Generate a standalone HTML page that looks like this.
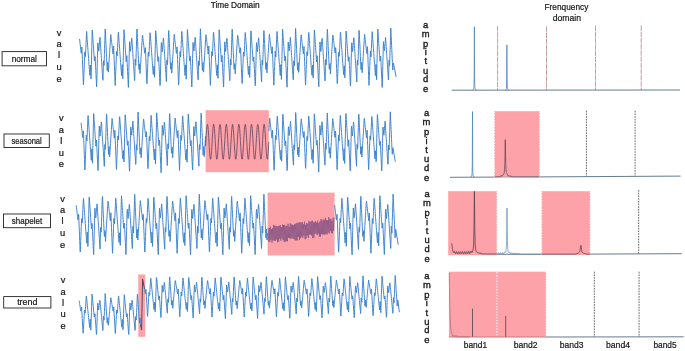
<!DOCTYPE html>
<html><head><meta charset="utf-8"><title>Time and Frequency Domain Anomalies</title>
<style>html,body{margin:0;padding:0;background:#fff;}svg{display:block}</style></head>
<body>
<svg width="685" height="351" viewBox="0 0 685 351">
<defs><filter id="soft" x="-5%" y="-5%" width="110%" height="110%"><feGaussianBlur stdDeviation="0.35"/></filter><filter id="soft2" x="-5%" y="-5%" width="110%" height="110%"><feGaussianBlur stdDeviation="0.3"/></filter></defs>
<rect width="685" height="351" fill="#fff"/>
<g font-family="'Liberation Sans', sans-serif" filter="url(#soft2)">
<text x="235.2" y="8.3" font-size="8.60" text-anchor="middle" fill="#161616" stroke="#161616" stroke-width="0.20" font-weight="normal" textLength="49.0" lengthAdjust="spacingAndGlyphs">Time Domain</text>
<text x="566.4" y="9.8" font-size="8.60" text-anchor="middle" fill="#161616" stroke="#161616" stroke-width="0.20" font-weight="normal" textLength="43.8" lengthAdjust="spacingAndGlyphs">Frenquency</text>
<text x="566.9" y="21.0" font-size="8.60" text-anchor="middle" fill="#161616" stroke="#161616" stroke-width="0.20" font-weight="normal" textLength="28.3" lengthAdjust="spacingAndGlyphs">domain</text>
<rect x="2.1" y="51.6" width="44.4" height="14.2" fill="#fff" stroke="#222" stroke-width="0.9"/>
<text x="24.3" y="61.6" font-size="8.80" text-anchor="middle" fill="#161616" stroke="#161616" stroke-width="0.20" font-weight="normal" textLength="25.3" lengthAdjust="spacingAndGlyphs">normal</text>
<rect x="4.0" y="134.0" width="45.3" height="13.5" fill="#fff" stroke="#222" stroke-width="0.9"/>
<text x="26.6" y="143.7" font-size="8.80" text-anchor="middle" fill="#161616" stroke="#161616" stroke-width="0.20" font-weight="normal" textLength="30.3" lengthAdjust="spacingAndGlyphs">seasonal</text>
<rect x="3.5" y="214.0" width="47.0" height="13.7" fill="#fff" stroke="#222" stroke-width="0.9"/>
<text x="27.0" y="223.8" font-size="8.80" text-anchor="middle" fill="#161616" stroke="#161616" stroke-width="0.20" font-weight="normal" textLength="30.3" lengthAdjust="spacingAndGlyphs">shapelet</text>
<rect x="3.7" y="296.6" width="47.2" height="11.4" fill="#fff" stroke="#222" stroke-width="0.9"/>
<text x="27.3" y="305.2" font-size="8.80" text-anchor="middle" fill="#161616" stroke="#161616" stroke-width="0.20" font-weight="normal" textLength="20.3" lengthAdjust="spacingAndGlyphs">trend</text>
<text x="59.0" y="35.5" font-size="9.30" text-anchor="middle" fill="#161616" stroke="#161616" stroke-width="0.22" font-weight="normal">v</text>
<text x="59.0" y="46.9" font-size="9.30" text-anchor="middle" fill="#161616" stroke="#161616" stroke-width="0.22" font-weight="normal">a</text>
<text x="59.0" y="57.5" font-size="9.30" text-anchor="middle" fill="#161616" stroke="#161616" stroke-width="0.22" font-weight="normal">l</text>
<text x="59.0" y="70.1" font-size="9.30" text-anchor="middle" fill="#161616" stroke="#161616" stroke-width="0.22" font-weight="normal">u</text>
<text x="59.0" y="81.5" font-size="9.30" text-anchor="middle" fill="#161616" stroke="#161616" stroke-width="0.22" font-weight="normal">e</text>
<text x="61.3" y="120.7" font-size="9.30" text-anchor="middle" fill="#161616" stroke="#161616" stroke-width="0.22" font-weight="normal">v</text>
<text x="61.3" y="132.8" font-size="9.30" text-anchor="middle" fill="#161616" stroke="#161616" stroke-width="0.22" font-weight="normal">a</text>
<text x="61.3" y="143.7" font-size="9.30" text-anchor="middle" fill="#161616" stroke="#161616" stroke-width="0.22" font-weight="normal">l</text>
<text x="61.3" y="155.8" font-size="9.30" text-anchor="middle" fill="#161616" stroke="#161616" stroke-width="0.22" font-weight="normal">u</text>
<text x="61.3" y="167.2" font-size="9.30" text-anchor="middle" fill="#161616" stroke="#161616" stroke-width="0.22" font-weight="normal">e</text>
<text x="62.5" y="201.9" font-size="9.30" text-anchor="middle" fill="#161616" stroke="#161616" stroke-width="0.22" font-weight="normal">v</text>
<text x="62.5" y="213.3" font-size="9.30" text-anchor="middle" fill="#161616" stroke="#161616" stroke-width="0.22" font-weight="normal">a</text>
<text x="62.5" y="224.2" font-size="9.30" text-anchor="middle" fill="#161616" stroke="#161616" stroke-width="0.22" font-weight="normal">l</text>
<text x="62.5" y="236.3" font-size="9.30" text-anchor="middle" fill="#161616" stroke="#161616" stroke-width="0.22" font-weight="normal">u</text>
<text x="62.5" y="247.9" font-size="9.30" text-anchor="middle" fill="#161616" stroke="#161616" stroke-width="0.22" font-weight="normal">e</text>
<text x="63.0" y="282.7" font-size="9.30" text-anchor="middle" fill="#161616" stroke="#161616" stroke-width="0.22" font-weight="normal">v</text>
<text x="63.0" y="294.8" font-size="9.30" text-anchor="middle" fill="#161616" stroke="#161616" stroke-width="0.22" font-weight="normal">a</text>
<text x="63.0" y="305.7" font-size="9.30" text-anchor="middle" fill="#161616" stroke="#161616" stroke-width="0.22" font-weight="normal">l</text>
<text x="63.0" y="317.3" font-size="9.30" text-anchor="middle" fill="#161616" stroke="#161616" stroke-width="0.22" font-weight="normal">u</text>
<text x="63.0" y="328.7" font-size="9.30" text-anchor="middle" fill="#161616" stroke="#161616" stroke-width="0.22" font-weight="normal">e</text>
<text x="425.7" y="27.7" font-size="9.40" text-anchor="middle" fill="#161616" stroke="#161616" stroke-width="0.35" font-weight="normal">a</text>
<text x="425.7" y="36.9" font-size="9.40" text-anchor="middle" fill="#161616" stroke="#161616" stroke-width="0.35" font-weight="normal">m</text>
<text x="425.7" y="47.0" font-size="9.40" text-anchor="middle" fill="#161616" stroke="#161616" stroke-width="0.35" font-weight="normal">p</text>
<text x="425.7" y="55.0" font-size="9.40" text-anchor="middle" fill="#161616" stroke="#161616" stroke-width="0.35" font-weight="normal">i</text>
<text x="425.7" y="64.2" font-size="9.40" text-anchor="middle" fill="#161616" stroke="#161616" stroke-width="0.35" font-weight="normal">t</text>
<text x="425.7" y="73.7" font-size="9.40" text-anchor="middle" fill="#161616" stroke="#161616" stroke-width="0.35" font-weight="normal">u</text>
<text x="425.7" y="82.4" font-size="9.40" text-anchor="middle" fill="#161616" stroke="#161616" stroke-width="0.35" font-weight="normal">d</text>
<text x="425.7" y="92.1" font-size="9.40" text-anchor="middle" fill="#161616" stroke="#161616" stroke-width="0.35" font-weight="normal">e</text>
<text x="426.5" y="115.7" font-size="9.40" text-anchor="middle" fill="#161616" stroke="#161616" stroke-width="0.35" font-weight="normal">a</text>
<text x="426.5" y="124.9" font-size="9.40" text-anchor="middle" fill="#161616" stroke="#161616" stroke-width="0.35" font-weight="normal">m</text>
<text x="426.5" y="135.0" font-size="9.40" text-anchor="middle" fill="#161616" stroke="#161616" stroke-width="0.35" font-weight="normal">p</text>
<text x="426.5" y="143.5" font-size="9.40" text-anchor="middle" fill="#161616" stroke="#161616" stroke-width="0.35" font-weight="normal">i</text>
<text x="426.5" y="152.7" font-size="9.40" text-anchor="middle" fill="#161616" stroke="#161616" stroke-width="0.35" font-weight="normal">t</text>
<text x="426.5" y="162.4" font-size="9.40" text-anchor="middle" fill="#161616" stroke="#161616" stroke-width="0.35" font-weight="normal">u</text>
<text x="426.5" y="171.4" font-size="9.40" text-anchor="middle" fill="#161616" stroke="#161616" stroke-width="0.35" font-weight="normal">d</text>
<text x="426.5" y="181.1" font-size="9.40" text-anchor="middle" fill="#161616" stroke="#161616" stroke-width="0.35" font-weight="normal">e</text>
<text x="427.0" y="196.9" font-size="9.40" text-anchor="middle" fill="#161616" stroke="#161616" stroke-width="0.35" font-weight="normal">a</text>
<text x="427.0" y="206.1" font-size="9.40" text-anchor="middle" fill="#161616" stroke="#161616" stroke-width="0.35" font-weight="normal">m</text>
<text x="427.0" y="216.2" font-size="9.40" text-anchor="middle" fill="#161616" stroke="#161616" stroke-width="0.35" font-weight="normal">p</text>
<text x="427.0" y="224.7" font-size="9.40" text-anchor="middle" fill="#161616" stroke="#161616" stroke-width="0.35" font-weight="normal">i</text>
<text x="427.0" y="233.7" font-size="9.40" text-anchor="middle" fill="#161616" stroke="#161616" stroke-width="0.35" font-weight="normal">t</text>
<text x="427.0" y="242.9" font-size="9.40" text-anchor="middle" fill="#161616" stroke="#161616" stroke-width="0.35" font-weight="normal">u</text>
<text x="427.0" y="252.1" font-size="9.40" text-anchor="middle" fill="#161616" stroke="#161616" stroke-width="0.35" font-weight="normal">d</text>
<text x="427.0" y="261.5" font-size="9.40" text-anchor="middle" fill="#161616" stroke="#161616" stroke-width="0.35" font-weight="normal">e</text>
<text x="426.9" y="279.4" font-size="9.40" text-anchor="middle" fill="#161616" stroke="#161616" stroke-width="0.35" font-weight="normal">a</text>
<text x="426.9" y="288.4" font-size="9.40" text-anchor="middle" fill="#161616" stroke="#161616" stroke-width="0.35" font-weight="normal">m</text>
<text x="426.9" y="298.0" font-size="9.40" text-anchor="middle" fill="#161616" stroke="#161616" stroke-width="0.35" font-weight="normal">p</text>
<text x="426.9" y="306.1" font-size="9.40" text-anchor="middle" fill="#161616" stroke="#161616" stroke-width="0.35" font-weight="normal">i</text>
<text x="426.9" y="315.6" font-size="9.40" text-anchor="middle" fill="#161616" stroke="#161616" stroke-width="0.35" font-weight="normal">t</text>
<text x="426.9" y="324.7" font-size="9.40" text-anchor="middle" fill="#161616" stroke="#161616" stroke-width="0.35" font-weight="normal">u</text>
<text x="426.9" y="333.0" font-size="9.40" text-anchor="middle" fill="#161616" stroke="#161616" stroke-width="0.35" font-weight="normal">d</text>
<text x="426.9" y="343.4" font-size="9.40" text-anchor="middle" fill="#161616" stroke="#161616" stroke-width="0.35" font-weight="normal">e</text>
<text x="475.4" y="347.6" font-size="8.60" text-anchor="middle" fill="#161616" stroke="#161616" stroke-width="0.20" font-weight="normal" textLength="23.3" lengthAdjust="spacingAndGlyphs">band1</text>
<text x="525.7" y="347.6" font-size="8.60" text-anchor="middle" fill="#161616" stroke="#161616" stroke-width="0.20" font-weight="normal" textLength="23.9" lengthAdjust="spacingAndGlyphs">band2</text>
<text x="571.6" y="347.6" font-size="8.60" text-anchor="middle" fill="#161616" stroke="#161616" stroke-width="0.20" font-weight="normal" textLength="23.6" lengthAdjust="spacingAndGlyphs">band3</text>
<text x="618.0" y="347.6" font-size="8.60" text-anchor="middle" fill="#161616" stroke="#161616" stroke-width="0.20" font-weight="normal" textLength="24.1" lengthAdjust="spacingAndGlyphs">band4</text>
<text x="665.0" y="347.6" font-size="8.60" text-anchor="middle" fill="#161616" stroke="#161616" stroke-width="0.20" font-weight="normal" textLength="23.1" lengthAdjust="spacingAndGlyphs">band5</text>
</g>
<g fill="none" stroke-linejoin="round" stroke-linecap="round">
<path d="M79.60,39.28 L79.80,41.03 L80.00,42.78 L80.20,44.52 L80.40,46.27 L80.60,48.02 L80.80,49.77 L81.00,51.51 L81.20,53.26 L81.40,52.44 L81.60,49.73 L81.80,47.03 L82.00,49.15 L82.20,54.22 L82.40,59.30 L82.60,64.37 L82.80,69.44 L83.00,74.52 L83.20,79.59 L83.40,84.67 L83.60,82.26 L83.80,77.19 L84.00,72.11 L84.20,67.04 L84.40,61.96 L84.60,56.89 L84.80,51.82 L85.00,52.70 L85.20,54.73 L85.40,56.76 L85.60,53.16 L85.80,48.81 L86.00,44.47 L86.20,40.12 L86.40,35.77 L86.60,31.43 L86.80,33.97 L87.00,36.72 L87.20,39.47 L87.40,42.22 L87.60,44.97 L87.80,47.71 L88.00,50.46 L88.20,53.21 L88.40,55.96 L88.60,58.71 L88.80,61.46 L89.00,64.21 L89.20,66.96 L89.40,69.71 L89.60,72.46 L89.80,75.21 L90.00,73.11 L90.20,69.05 L90.40,64.99 L90.60,68.09 L90.80,73.50 L91.00,78.91 L91.20,73.11 L91.40,64.48 L91.60,55.86 L91.80,47.23 L92.00,38.60 L92.20,29.98 L92.40,31.58 L92.60,34.49 L92.80,37.41 L93.00,40.32 L93.20,43.23 L93.40,46.14 L93.60,49.05 L93.80,51.97 L94.00,54.88 L94.20,57.79 L94.40,60.70 L94.60,60.78 L94.80,58.58 L95.00,56.38 L95.20,57.97 L95.40,62.09 L95.60,66.21 L95.80,70.33 L96.00,74.46 L96.20,78.58 L96.40,82.70 L96.60,86.83 L96.80,82.35 L97.00,74.45 L97.20,66.55 L97.40,58.66 L97.60,50.76 L97.80,42.86 L98.00,43.24 L98.20,45.65 L98.40,48.06 L98.60,50.48 L98.80,51.15 L99.00,48.84 L99.20,46.53 L99.40,44.22 L99.60,41.91 L99.80,39.60 L100.00,37.29 L100.20,40.12 L100.40,43.15 L100.60,46.18 L100.80,49.21 L101.00,52.24 L101.20,55.27 L101.40,58.30 L101.60,61.34 L101.80,64.37 L102.00,67.40 L102.20,70.43 L102.40,73.46 L102.60,76.49 L102.80,79.52 L103.00,80.30 L103.20,70.96 L103.40,61.63 L103.60,60.70 L103.80,63.07 L104.00,65.44 L104.20,61.11 L104.40,54.70 L104.60,48.29 L104.80,41.88 L105.00,35.47 L105.20,29.06 L105.40,31.76 L105.60,36.06 L105.80,40.36 L106.00,44.67 L106.20,48.97 L106.40,53.27 L106.60,57.57 L106.80,61.88 L107.00,66.18 L107.20,70.48 L107.40,67.64 L107.60,64.76 L107.80,62.19 L108.00,67.06 L108.20,71.94 L108.40,72.14 L108.60,68.91 L108.80,65.68 L109.00,62.44 L109.20,59.21 L109.40,55.98 L109.60,52.75 L109.80,49.52 L110.00,46.29 L110.20,43.06 L110.40,39.83 L110.60,36.60 L110.80,34.65 L111.00,36.40 L111.20,38.15 L111.40,39.89 L111.60,41.64 L111.80,43.39 L112.00,45.14 L112.20,46.88 L112.40,48.63 L112.60,50.38 L112.80,52.12 L113.00,53.87 L113.20,51.49 L113.40,48.79 L113.60,46.08 L113.80,50.92 L114.00,56.00 L114.20,61.07 L114.40,66.15 L114.60,71.22 L114.80,76.29 L115.00,81.37 L115.20,85.56 L115.40,80.48 L115.60,75.41 L115.80,70.34 L116.00,65.26 L116.20,60.19 L116.40,55.11 L116.60,51.38 L116.80,53.41 L117.00,55.44 L117.20,55.99 L117.40,51.64 L117.60,47.29 L117.80,42.95 L118.00,38.60 L118.20,34.25 L118.40,32.18 L118.60,34.93 L118.80,37.68 L119.00,40.43 L119.20,43.18 L119.40,45.93 L119.60,48.68 L119.80,51.43 L120.00,54.18 L120.20,56.92 L120.40,59.67 L120.60,62.42 L120.80,65.17 L121.00,67.92 L121.20,70.67 L121.40,73.42 L121.60,75.75 L121.80,71.69 L122.00,67.63 L122.20,64.57 L122.40,69.98 L122.60,75.39 L122.80,78.71 L123.00,70.09 L123.20,61.46 L123.40,52.84 L123.60,44.21 L123.80,35.58 L124.00,29.69 L124.20,32.60 L124.40,35.51 L124.60,38.43 L124.80,41.34 L125.00,44.25 L125.20,47.16 L125.40,50.07 L125.60,52.99 L125.80,55.90 L126.00,58.81 L126.20,61.72 L126.40,60.01 L126.60,57.81 L126.80,55.61 L127.00,59.41 L127.20,63.53 L127.40,67.65 L127.60,71.78 L127.80,75.90 L128.00,80.02 L128.20,84.15 L128.40,87.49 L128.60,79.59 L128.80,71.69 L129.00,63.79 L129.20,55.89 L129.40,47.99 L129.60,41.67 L129.80,44.08 L130.00,46.49 L130.20,48.91 L130.40,51.32 L130.60,50.34 L130.80,48.03 L131.00,45.72 L131.20,43.41 L131.40,41.10 L131.60,38.79 L131.80,38.15 L132.00,41.18 L132.20,44.21 L132.40,47.24 L132.60,50.27 L132.80,53.30 L133.00,56.33 L133.20,59.37 L133.40,62.40 L133.60,65.43 L133.80,68.46 L134.00,71.49 L134.20,74.52 L134.40,77.55 L134.60,80.58 L134.80,77.03 L135.00,67.70 L135.20,59.16 L135.40,61.53 L135.60,63.90 L135.80,65.28 L136.00,58.87 L136.20,52.46 L136.40,46.05 L136.60,39.64 L136.80,33.23 L137.00,28.96 L137.20,33.26 L137.40,37.57 L137.60,41.87 L137.80,46.17 L138.00,50.47 L138.20,54.78 L138.40,59.08 L138.60,63.38 L138.80,67.69 L139.00,69.51 L139.20,66.63 L139.40,63.75 L139.60,63.90 L139.80,68.77 L140.00,73.64 L140.20,71.01 L140.40,67.78 L140.60,64.54 L140.80,61.31 L141.00,58.08 L141.20,54.85 L141.40,51.62 L141.60,48.39 L141.80,45.16 L142.00,41.93 L142.20,38.70 L142.40,35.46 L142.60,35.26 L142.80,37.01 L143.00,38.76 L143.20,40.51 L143.40,42.25 L143.60,44.00 L143.80,45.75 L144.00,47.49 L144.20,49.24 L144.40,50.99 L144.60,52.74 L144.80,53.25 L145.00,50.55 L145.20,47.84 L145.40,47.63 L145.60,52.70 L145.80,57.77 L146.00,62.85 L146.20,67.92 L146.40,73.00 L146.60,78.07 L146.80,83.14 L147.00,83.78 L147.20,78.71 L147.40,73.63 L147.60,68.56 L147.80,63.49 L148.00,58.41 L148.20,53.34 L148.40,52.09 L148.60,54.12 L148.80,56.15 L149.00,54.47 L149.20,50.12 L149.40,45.77 L149.60,41.43 L149.80,37.08 L150.00,32.73 L150.20,33.14 L150.40,35.89 L150.60,38.64 L150.80,41.39 L151.00,44.14 L151.20,46.89 L151.40,49.64 L151.60,52.39 L151.80,55.14 L152.00,57.89 L152.20,60.64 L152.40,63.39 L152.60,66.13 L152.80,68.88 L153.00,71.63 L153.20,74.38 L153.40,74.33 L153.60,70.27 L153.80,66.21 L154.00,66.46 L154.20,71.88 L154.40,77.29 L154.60,75.70 L154.80,67.07 L155.00,58.44 L155.20,49.82 L155.40,41.19 L155.60,32.57 L155.80,30.71 L156.00,33.62 L156.20,36.53 L156.40,39.44 L156.60,42.36 L156.80,45.27 L157.00,48.18 L157.20,51.09 L157.40,54.00 L157.60,56.92 L157.80,59.83 L158.00,61.44 L158.20,59.24 L158.40,57.04 L158.60,56.73 L158.80,60.85 L159.00,64.98 L159.20,69.10 L159.40,73.22 L159.60,77.34 L159.80,81.47 L160.00,85.59 L160.20,84.72 L160.40,76.82 L160.60,68.92 L160.80,61.03 L161.00,53.13 L161.20,45.23 L161.40,42.51 L161.60,44.93 L161.80,47.34 L162.00,49.75 L162.20,51.84 L162.40,49.53 L162.60,47.22 L162.80,44.91 L163.00,42.60 L163.20,40.29 L163.40,37.98 L163.60,39.21 L163.80,42.24 L164.00,45.27 L164.20,48.30 L164.40,51.33 L164.60,54.36 L164.80,57.40 L165.00,60.43 L165.20,63.46 L165.40,66.49 L165.60,69.52 L165.80,72.55 L166.00,75.58 L166.20,78.61 L166.40,81.64 L166.60,73.76 L166.80,64.43 L167.00,59.99 L167.20,62.36 L167.40,64.73 L167.60,63.04 L167.80,56.63 L168.00,50.22 L168.20,43.81 L168.40,37.39 L168.60,30.98 L168.80,30.47 L169.00,34.77 L169.20,39.07 L169.40,43.37 L169.60,47.68 L169.80,51.98 L170.00,56.28 L170.20,60.59 L170.40,64.89 L170.60,69.19 L170.80,68.50 L171.00,65.62 L171.20,62.75 L171.40,65.60 L171.60,70.47 L171.80,73.11 L172.00,69.88 L172.20,66.65 L172.40,63.41 L172.60,60.18 L172.80,56.95 L173.00,53.72 L173.20,50.49 L173.40,47.26 L173.60,44.03 L173.80,40.80 L174.00,37.56 L174.20,34.33 L174.40,35.88 L174.60,37.62 L174.80,39.37 L175.00,41.12 L175.20,42.86 L175.40,44.61 L175.60,46.36 L175.80,48.11 L176.00,49.85 L176.20,51.60 L176.40,53.35 L176.60,52.30 L176.80,49.60 L177.00,46.89 L177.20,49.40 L177.40,54.48 L177.60,59.55 L177.80,64.62 L178.00,69.70 L178.20,74.77 L178.40,79.85 L178.60,84.92 L178.80,82.01 L179.00,76.93 L179.20,71.86 L179.40,66.78 L179.60,61.71 L179.80,56.64 L180.00,51.56 L180.20,52.80 L180.40,54.83 L180.60,56.86 L180.80,52.94 L181.00,48.60 L181.20,44.25 L181.40,39.90 L181.60,35.56 L181.80,31.36 L182.00,34.11 L182.20,36.86 L182.40,39.60 L182.60,42.35 L182.80,45.10 L183.00,47.85 L183.20,50.60 L183.40,53.35 L183.60,56.10 L183.80,58.85 L184.00,61.60 L184.20,64.35 L184.40,67.10 L184.60,69.85 L184.80,72.60 L185.00,75.34 L185.20,72.91 L185.40,68.85 L185.60,64.79 L185.80,68.36 L186.00,73.77 L186.20,79.18 L186.40,72.68 L186.60,64.05 L186.80,55.42 L187.00,46.80 L187.20,38.17 L187.40,29.55 L187.60,31.73 L187.80,34.64 L188.00,37.55 L188.20,40.46 L188.40,43.38 L188.60,46.29 L188.80,49.20 L189.00,52.11 L189.20,55.02 L189.40,57.94 L189.60,60.85 L189.80,60.67 L190.00,58.47 L190.20,56.27 L190.40,58.17 L190.60,62.30 L190.80,66.42 L191.00,70.54 L191.20,74.66 L191.40,78.79 L191.60,82.91 L191.80,87.03 L192.00,81.96 L192.20,74.06 L192.40,66.16 L192.60,58.26 L192.80,50.36 L193.00,42.46 L193.20,43.36 L193.40,45.77 L193.60,48.18 L193.80,50.60 L194.00,51.03 L194.20,48.72 L194.40,46.41 L194.60,44.10 L194.80,41.79 L195.00,39.48 L195.20,37.24 L195.40,40.27 L195.60,43.30 L195.80,46.33 L196.00,49.36 L196.20,52.39 L196.40,55.43 L196.60,58.46 L196.80,61.49 L197.00,64.52 L197.20,67.55 L197.40,70.58 L197.60,73.61 L197.80,76.64 L198.00,79.67 L198.20,79.83 L198.40,70.50 L198.60,61.16 L198.80,60.82 L199.00,63.19 L199.20,65.56 L199.40,60.79 L199.60,54.38 L199.80,47.97 L200.00,41.56 L200.20,35.15 L200.40,28.74 L200.60,31.97 L200.80,36.28 L201.00,40.58 L201.20,44.88 L201.40,49.18 L201.60,53.49 L201.80,57.79 L202.00,62.09 L202.20,66.39 L202.40,70.37 L202.60,67.49 L202.80,64.62 L203.00,62.44 L203.20,67.31 L203.40,72.18 L203.60,71.98 L203.80,68.75 L204.00,65.51 L204.20,62.28 L204.40,59.05 L204.60,55.82 L204.80,52.59 L205.00,49.36 L205.20,46.13 L205.40,42.90 L205.60,39.66 L205.80,36.43 L206.00,34.74 L206.20,36.49 L206.40,38.23 L206.60,39.98 L206.80,41.73 L207.00,43.48 L207.20,45.22 L207.40,46.97 L207.60,48.72 L207.80,50.46 L208.00,52.21 L208.20,53.96 L208.40,51.36 L208.60,48.65 L208.80,46.10 L209.00,51.18 L209.20,56.25 L209.40,61.33 L209.60,66.40 L209.80,71.47 L210.00,76.55 L210.20,81.62 L210.40,85.30 L210.60,80.23 L210.80,75.16 L211.00,70.08 L211.20,65.01 L211.40,59.93 L211.60,54.86 L211.80,51.49 L212.00,53.52 L212.20,55.54 L212.40,55.77 L212.60,51.42 L212.80,47.08 L213.00,42.73 L213.20,38.38 L213.40,34.04 L213.60,32.32 L213.80,35.07 L214.00,37.82 L214.20,40.57 L214.40,43.32 L214.60,46.07 L214.80,48.81 L215.00,51.56 L215.20,54.31 L215.40,57.06 L215.60,59.81 L215.80,62.56 L216.00,65.31 L216.20,68.06 L216.40,70.81 L216.60,73.56 L216.80,75.55 L217.00,71.49 L217.20,67.43 L217.40,64.84 L217.60,70.25 L217.80,75.67 L218.00,78.28 L218.20,69.66 L218.40,61.03 L218.60,52.41 L218.80,43.78 L219.00,35.15 L219.20,29.83 L219.40,32.75 L219.60,35.66 L219.80,38.57 L220.00,41.48 L220.20,44.40 L220.40,47.31 L220.60,50.22 L220.80,53.13 L221.00,56.04 L221.20,58.96 L221.40,61.87 L221.60,59.90 L221.80,57.70 L222.00,55.50 L222.20,59.62 L222.40,63.74 L222.60,67.86 L222.80,71.98 L223.00,76.11 L223.20,80.23 L223.40,84.35 L223.60,87.09 L223.80,79.19 L224.00,71.29 L224.20,63.40 L224.40,55.50 L224.60,47.60 L224.80,41.79 L225.00,44.20 L225.20,46.61 L225.40,49.03 L225.60,51.44 L225.80,50.22 L226.00,47.91 L226.20,45.60 L226.40,43.29 L226.60,40.98 L226.80,38.67 L227.00,38.30 L227.20,41.33 L227.40,44.36 L227.60,47.39 L227.80,50.42 L228.00,53.46 L228.20,56.49 L228.40,59.52 L228.60,62.55 L228.80,65.58 L229.00,68.61 L229.20,71.64 L229.40,74.67 L229.60,77.70 L229.80,80.73 L230.00,76.56 L230.20,67.23 L230.40,59.28 L230.60,61.65 L230.80,64.02 L231.00,64.96 L231.20,58.55 L231.40,52.14 L231.60,45.73 L231.80,39.32 L232.00,32.91 L232.20,29.18 L232.40,33.48 L232.60,37.78 L232.80,42.08 L233.00,46.39 L233.20,50.69 L233.40,54.99 L233.60,59.30 L233.80,63.60 L234.00,67.90 L234.20,69.36 L234.40,66.49 L234.60,63.61 L234.80,64.14 L235.00,69.01 L235.20,73.88 L235.40,70.85 L235.60,67.61 L235.80,64.38 L236.00,61.15 L236.20,57.92 L236.40,54.69 L236.60,51.46 L236.80,48.23 L237.00,45.00 L237.20,41.77 L237.40,38.53 L237.60,35.30 L237.80,35.35 L238.00,37.10 L238.20,38.85 L238.40,40.59 L238.60,42.34 L238.80,44.09 L239.00,45.83 L239.20,47.58 L239.40,49.33 L239.60,51.08 L239.80,52.82 L240.00,53.12 L240.20,50.41 L240.40,47.70 L240.60,47.88 L240.80,52.95 L241.00,58.03 L241.20,63.10 L241.40,68.18 L241.60,73.25 L241.80,78.32 L242.00,83.40 L242.20,83.53 L242.40,78.45 L242.60,73.38 L242.80,68.31 L243.00,63.23 L243.20,58.16 L243.40,53.08 L243.60,52.20 L243.80,54.23 L244.00,56.26 L244.20,54.25 L244.40,49.90 L244.60,45.55 L244.80,41.21 L245.00,36.86 L245.20,32.51 L245.40,33.28 L245.60,36.03 L245.80,38.78 L246.00,41.53 L246.20,44.28 L246.40,47.03 L246.60,49.78 L246.80,52.53 L247.00,55.27 L247.20,58.02 L247.40,60.77 L247.60,63.52 L247.80,66.27 L248.00,69.02 L248.20,71.77 L248.40,74.52 L248.60,74.13 L248.80,70.07 L249.00,66.01 L249.20,66.73 L249.40,72.15 L249.60,77.56 L249.80,75.26 L250.00,66.64 L250.20,58.01 L250.40,49.39 L250.60,40.76 L250.80,32.13 L251.00,30.85 L251.20,33.77 L251.40,36.68 L251.60,39.59 L251.80,42.50 L252.00,45.41 L252.20,48.33 L252.40,51.24 L252.60,54.15 L252.80,57.06 L253.00,59.97 L253.20,61.33 L253.40,59.13 L253.60,56.93 L253.80,56.94 L254.00,61.06 L254.20,65.18 L254.40,69.30 L254.60,73.43 L254.80,77.55 L255.00,81.67 L255.20,85.79 L255.40,84.33 L255.60,76.43 L255.80,68.53 L256.00,60.63 L256.20,52.73 L256.40,44.83 L256.60,42.63 L256.80,45.05 L257.00,47.46 L257.20,49.87 L257.40,51.73 L257.60,49.42 L257.80,47.11 L258.00,44.79 L258.20,42.48 L258.40,40.17 L258.60,37.86 L258.80,39.36 L259.00,42.39 L259.20,45.42 L259.40,48.45 L259.60,51.49 L259.80,54.52 L260.00,57.55 L260.20,60.58 L260.40,63.61 L260.60,66.64 L260.80,69.67 L261.00,72.70 L261.20,75.73 L261.40,78.76 L261.60,81.79 L261.80,73.30 L262.00,63.96 L262.20,60.11 L262.40,62.48 L262.60,64.85 L262.80,62.72 L263.00,56.31 L263.20,49.89 L263.40,43.48 L263.60,37.07 L263.80,30.66 L264.00,30.68 L264.20,34.98 L264.40,39.29 L264.60,43.59 L264.80,47.89 L265.00,52.20 L265.20,56.50 L265.40,60.80 L265.60,65.10 L265.80,69.41 L266.00,68.36 L266.20,65.48 L266.40,62.60 L266.60,65.85 L266.80,70.72 L267.00,72.95 L267.20,69.71 L267.40,66.48 L267.60,63.25 L267.80,60.02 L268.00,56.79 L268.20,53.56 L268.40,50.33 L268.60,47.10 L268.80,43.87 L269.00,40.63 L269.20,37.40 L269.40,34.22 L269.60,35.96 L269.80,37.71 L270.00,39.46 L270.20,41.20 L270.40,42.95 L270.60,44.70 L270.80,46.45 L271.00,48.19 L271.20,49.94 L271.40,51.69 L271.60,53.43 L271.80,52.17 L272.00,49.46 L272.20,46.76 L272.40,49.66 L272.60,54.73 L272.80,59.80 L273.00,64.88 L273.20,69.95 L273.40,75.03 L273.60,80.10 L273.80,85.17 L274.00,81.75 L274.20,76.68 L274.40,71.60 L274.60,66.53 L274.80,61.46 L275.00,56.38 L275.20,51.31 L275.40,52.91 L275.60,54.94 L275.80,56.97 L276.00,52.73 L276.20,48.38 L276.40,44.03 L276.60,39.69 L276.80,35.34 L277.00,31.49 L277.20,34.24 L277.40,36.99 L277.60,39.74 L277.80,42.49 L278.00,45.24 L278.20,47.99 L278.40,50.74 L278.60,53.49 L278.80,56.24 L279.00,58.99 L279.20,61.74 L279.40,64.48 L279.60,67.23 L279.80,69.98 L280.00,72.73 L280.20,75.48 L280.40,72.71 L280.60,68.65 L280.80,64.59 L281.00,68.63 L281.20,74.04 L281.40,79.45 L281.60,72.24 L281.80,63.62 L282.00,54.99 L282.20,46.37 L282.40,37.74 L282.60,29.12 L282.80,31.87 L283.00,34.79 L283.20,37.70 L283.40,40.61 L283.60,43.52 L283.80,46.43 L284.00,49.35 L284.20,52.26 L284.40,55.17 L284.60,58.08 L284.80,60.99 L285.00,60.56 L285.20,58.36 L285.40,56.16 L285.60,58.38 L285.80,62.50 L286.00,66.62 L286.20,70.75 L286.40,74.87 L286.60,78.99 L286.80,83.11 L287.00,87.24 L287.20,81.56 L287.40,73.66 L287.60,65.76 L287.80,57.87 L288.00,49.97 L288.20,42.07 L288.40,43.48 L288.60,45.89 L288.80,48.30 L289.00,50.72 L289.20,50.92 L289.40,48.61 L289.60,46.30 L289.80,43.99 L290.00,41.68 L290.20,39.36 L290.40,37.39 L290.60,40.42 L290.80,43.45 L291.00,46.48 L291.20,49.52 L291.40,52.55 L291.60,55.58 L291.80,58.61 L292.00,61.64 L292.20,64.67 L292.40,67.70 L292.60,70.73 L292.80,73.76 L293.00,76.79 L293.20,79.82 L293.40,79.37 L293.60,70.03 L293.80,60.69 L294.00,60.94 L294.20,63.31 L294.40,65.67 L294.60,60.47 L294.80,54.06 L295.00,47.65 L295.20,41.24 L295.40,34.83 L295.60,28.42 L295.80,32.19 L296.00,36.49 L296.20,40.79 L296.40,45.10 L296.60,49.40 L296.80,53.70 L297.00,58.00 L297.20,62.31 L297.40,66.61 L297.60,70.22 L297.80,67.35 L298.00,64.47 L298.20,62.68 L298.40,67.55 L298.60,72.42 L298.80,71.81 L299.00,68.58 L299.20,65.35 L299.40,62.12 L299.60,58.89 L299.80,55.66 L300.00,52.43 L300.20,49.20 L300.40,45.97 L300.60,42.73 L300.80,39.50 L301.00,36.27 L301.20,34.83 L301.40,36.57 L301.60,38.32 L301.80,40.07 L302.00,41.82 L302.20,43.56 L302.40,45.31 L302.60,47.06 L302.80,48.80 L303.00,50.55 L303.20,52.30 L303.40,53.93 L303.60,51.22 L303.80,48.52 L304.00,46.36 L304.20,51.43 L304.40,56.51 L304.60,61.58 L304.80,66.65 L305.00,71.73 L305.20,76.80 L305.40,81.88 L305.60,85.05 L305.80,79.98 L306.00,74.90 L306.20,69.83 L306.40,64.75 L306.60,59.68 L306.80,54.61 L307.00,51.59 L307.20,53.62 L307.40,55.65 L307.60,55.55 L307.80,51.21 L308.00,46.86 L308.20,42.51 L308.40,38.17 L308.60,33.82 L308.80,32.46 L309.00,35.21 L309.20,37.95 L309.40,40.70 L309.60,43.45 L309.80,46.20 L310.00,48.95 L310.20,51.70 L310.40,54.45 L310.60,57.20 L310.80,59.95 L311.00,62.70 L311.20,65.45 L311.40,68.20 L311.60,70.95 L311.80,73.69 L312.00,75.34 L312.20,71.29 L312.40,67.23 L312.60,65.11 L312.80,70.52 L313.00,75.94 L313.20,77.85 L313.40,69.23 L313.60,60.60 L313.80,51.97 L314.00,43.35 L314.20,34.72 L314.40,29.98 L314.60,32.89 L314.80,35.80 L315.00,38.72 L315.20,41.63 L315.40,44.54 L315.60,47.45 L315.80,50.36 L316.00,53.28 L316.20,56.19 L316.40,59.10 L316.60,61.99 L316.80,59.79 L317.00,57.59 L317.20,55.70 L317.40,59.82 L317.60,63.94 L317.80,68.07 L318.00,72.19 L318.20,76.31 L318.40,80.44 L318.60,84.56 L318.80,86.70 L319.00,78.80 L319.20,70.90 L319.40,63.00 L319.60,55.10 L319.80,47.20 L320.00,41.91 L320.20,44.32 L320.40,46.74 L320.60,49.15 L320.80,51.56 L321.00,50.11 L321.20,47.80 L321.40,45.49 L321.60,43.18 L321.80,40.87 L322.00,38.56 L322.20,38.45 L322.40,41.48 L322.60,44.51 L322.80,47.55 L323.00,50.58 L323.20,53.61 L323.40,56.64 L323.60,59.67 L323.80,62.70 L324.00,65.73 L324.20,68.76 L324.40,71.79 L324.60,74.82 L324.80,77.85 L325.00,80.89 L325.20,76.10 L325.40,66.76 L325.60,59.40 L325.80,61.77 L326.00,64.14 L326.20,64.64 L326.40,58.23 L326.60,51.82 L326.80,45.41 L327.00,39.00 L327.20,32.59 L327.40,29.39 L327.60,33.69 L327.80,38.00 L328.00,42.30 L328.20,46.60 L328.40,50.90 L328.60,55.21 L328.80,59.51 L329.00,63.81 L329.20,68.12 L329.40,69.22 L329.60,66.34 L329.80,63.47 L330.00,64.39 L330.20,69.26 L330.40,73.92 L330.60,70.68 L330.80,67.45 L331.00,64.22 L331.20,60.99 L331.40,57.76 L331.60,54.53 L331.80,51.30 L332.00,48.07 L332.20,44.83 L332.40,41.60 L332.60,38.37 L332.80,35.14 L333.00,35.44 L333.20,37.19 L333.40,38.93 L333.60,40.68 L333.80,42.43 L334.00,44.17 L334.20,45.92 L334.40,47.67 L334.60,49.42 L334.80,51.16 L335.00,52.91 L335.20,52.98 L335.40,50.27 L335.60,47.57 L335.80,48.13 L336.00,53.21 L336.20,58.28 L336.40,63.36 L336.60,68.43 L336.80,73.50 L337.00,78.58 L337.20,83.65 L337.40,83.27 L337.60,78.20 L337.80,73.13 L338.00,68.05 L338.20,62.98 L338.40,57.90 L338.60,52.83 L338.80,52.30 L339.00,54.33 L339.20,56.36 L339.40,54.03 L339.60,49.68 L339.80,45.34 L340.00,40.99 L340.20,36.64 L340.40,32.30 L340.60,33.42 L340.80,36.17 L341.00,38.92 L341.20,41.67 L341.40,44.42 L341.60,47.16 L341.80,49.91 L342.00,52.66 L342.20,55.41 L342.40,58.16 L342.60,60.91 L342.80,63.66 L343.00,66.41 L343.20,69.16 L343.40,71.91 L343.60,74.66 L343.80,73.92 L344.00,69.86 L344.20,65.81 L344.40,67.01 L344.60,72.42 L344.80,77.83 L345.00,74.83 L345.20,66.21 L345.40,57.58 L345.60,48.95 L345.80,40.33 L346.00,31.70 L346.20,31.00 L346.40,33.91 L346.60,36.82 L346.80,39.74 L347.00,42.65 L347.20,45.56 L347.40,48.47 L347.60,51.38 L347.80,54.30 L348.00,57.21 L348.20,60.12 L348.40,61.22 L348.60,59.02 L348.80,56.82 L349.00,57.14 L349.20,61.26 L349.40,65.39 L349.60,69.51 L349.80,73.63 L350.00,77.76 L350.20,81.88 L350.40,86.00 L350.60,83.93 L350.80,76.03 L351.00,68.13 L351.20,60.24 L351.40,52.34 L351.60,44.44 L351.80,42.75 L352.00,45.17 L352.20,47.58 L352.40,49.99 L352.60,51.61 L352.80,49.30 L353.00,46.99 L353.20,44.68 L353.40,42.37 L353.60,40.06 L353.80,37.75 L354.00,39.51 L354.20,42.54 L354.40,45.57 L354.60,48.61 L354.80,51.64 L355.00,54.67 L355.20,57.70 L355.40,60.73 L355.60,63.76 L355.80,66.79 L356.00,69.82 L356.20,72.85 L356.40,75.88 L356.60,78.91 L356.80,81.95 L357.00,72.83 L357.20,63.49 L357.40,60.23 L357.60,62.60 L357.80,64.96 L358.00,62.39 L358.20,55.98 L358.40,49.57 L358.60,43.16 L358.80,36.75 L359.00,30.34 L359.20,30.90 L359.40,35.20 L359.60,39.50 L359.80,43.81 L360.00,48.11 L360.20,52.41 L360.40,56.71 L360.60,61.02 L360.80,65.32 L361.00,69.62 L361.20,68.21 L361.40,65.34 L361.60,62.46 L361.80,66.09 L362.00,70.96 L362.20,72.78 L362.40,69.55 L362.60,66.32 L362.80,63.09 L363.00,59.86 L363.20,56.63 L363.40,53.40 L363.60,50.17 L363.80,46.93 L364.00,43.70 L364.20,40.47 L364.40,37.24 L364.60,34.30 L364.80,36.05 L365.00,37.80 L365.20,39.54 L365.40,41.29 L365.60,43.04 L365.80,44.79 L366.00,46.53 L366.20,48.28 L366.40,50.03 L366.60,51.77 L366.80,53.52 L367.00,52.03 L367.20,49.33 L367.40,46.62 L367.60,49.91 L367.80,54.98 L368.00,60.06 L368.20,65.13 L368.40,70.21 L368.60,75.28 L368.80,80.35 L369.00,85.43 L369.20,81.50 L369.40,76.42 L369.60,71.35 L369.80,66.28 L370.00,61.20 L370.20,56.13 L370.40,51.05 L370.60,53.01 L370.80,55.04 L371.00,56.86 L371.20,52.51 L371.40,48.16 L371.60,43.82 L371.80,39.47 L372.00,35.12 L372.20,31.63 L372.40,34.38 L372.60,37.13 L372.80,39.88 L373.00,42.63 L373.20,45.38 L373.40,48.13 L373.60,50.88 L373.80,53.63 L374.00,56.37 L374.20,59.12 L374.40,61.87 L374.60,64.62 L374.80,67.37 L375.00,70.12 L375.20,72.87 L375.40,75.62 L375.60,72.50 L375.80,68.44 L376.00,64.38 L376.20,68.90 L376.40,74.31 L376.60,79.72 L376.80,71.81 L377.00,63.19 L377.20,54.56 L377.40,45.94 L377.60,37.31 L377.80,29.11 L378.00,32.02 L378.20,34.93 L378.40,37.84 L378.60,40.75 L378.80,43.67 L379.00,46.58 L379.20,49.49 L379.40,52.40 L379.60,55.32 L379.80,58.23 L380.00,61.14 L380.20,60.45 L380.40,58.25 L380.60,56.05 L380.80,58.58 L381.00,62.71 L381.20,66.83 L381.40,70.95 L381.60,75.08 L381.80,79.20 L382.00,83.32 L382.20,87.44 L382.40,81.17 L382.60,73.27 L382.80,65.37 L383.00,57.47 L383.20,49.57 L383.40,41.67 L383.60,43.60 L383.80,46.01 L384.00,48.42 L384.20,50.84 L384.40,50.80 L384.60,48.49 L384.80,46.18 L385.00,43.87 L385.20,41.56 L385.40,39.25 L385.60,37.54 L385.80,40.57 L386.00,43.60 L386.20,46.64 L386.40,49.67 L386.60,52.70 L386.80,55.73 L387.00,58.76 L387.20,61.79 L387.40,64.82 L387.60,67.85 L387.80,70.88 L388.00,73.91 L388.20,76.94 L388.40,79.98 L388.60,78.90 L388.80,69.56 L389.00,60.23 L389.20,61.06 L389.40,63.42 L389.60,65.79 L389.80,60.15 L390.00,53.74 L390.20,47.33 L390.40,40.92 L390.60,34.51 L390.80,28.10 L391.00,32.40 L391.20,36.71 L391.40,41.01 L391.60,45.31 L391.80,49.61 L392.00,53.92 L392.20,58.22 L392.40,62.52 L392.60,66.83 L392.80,70.08 L393.00,67.21 L393.20,64.33 L393.40,62.92 L396.10,76.67" stroke="#3a82cc" stroke-width="0.95" filter="url(#soft)"/>
<rect x="205.6" y="110.2" width="63.2" height="62" fill="#fca2a8"/>
<path d="M81.10,123.17 L81.30,124.96 L81.50,126.75 L81.70,128.54 L81.90,130.33 L82.10,132.12 L82.30,133.90 L82.50,135.69 L82.70,137.48 L82.90,136.39 L83.10,133.62 L83.30,130.85 L83.50,133.61 L83.70,138.80 L83.90,143.99 L84.10,149.19 L84.30,154.38 L84.50,159.57 L84.70,164.77 L84.90,169.96 L85.10,166.21 L85.30,161.02 L85.50,155.83 L85.70,150.63 L85.90,145.44 L86.10,140.24 L86.30,135.11 L86.50,137.18 L86.70,139.26 L86.90,140.88 L87.10,136.43 L87.30,131.98 L87.50,127.53 L87.70,123.08 L87.90,118.63 L88.10,115.61 L88.30,118.42 L88.50,121.23 L88.70,124.05 L88.90,126.86 L89.10,129.68 L89.30,132.49 L89.50,135.30 L89.70,138.12 L89.90,140.93 L90.10,143.75 L90.30,146.56 L90.50,149.37 L90.70,152.19 L90.90,155.00 L91.10,157.82 L91.30,160.34 L91.50,156.19 L91.70,152.03 L91.90,148.89 L92.10,154.43 L92.30,159.97 L92.50,163.11 L92.70,154.28 L92.90,145.45 L93.10,136.62 L93.30,127.79 L93.50,118.97 L93.70,113.59 L93.90,116.57 L94.10,119.55 L94.30,122.53 L94.50,125.51 L94.70,128.49 L94.90,131.47 L95.10,134.45 L95.30,137.43 L95.50,140.41 L95.70,143.39 L95.90,146.20 L96.10,143.95 L96.30,141.70 L96.50,140.07 L96.70,144.29 L96.90,148.51 L97.10,152.73 L97.30,156.95 L97.50,161.17 L97.70,165.39 L97.90,169.61 L98.10,170.59 L98.30,162.50 L98.50,154.42 L98.70,146.34 L98.90,138.25 L99.10,130.17 L99.30,126.19 L99.50,128.66 L99.70,131.13 L99.90,133.59 L100.10,136.06 L100.30,133.78 L100.50,131.42 L100.70,129.05 L100.90,126.69 L101.10,124.32 L101.30,121.96 L101.50,122.98 L101.70,126.08 L101.90,129.18 L102.10,132.28 L102.30,135.38 L102.50,138.49 L102.70,141.59 L102.90,144.69 L103.10,147.79 L103.30,150.90 L103.50,154.00 L103.70,157.10 L103.90,160.20 L104.10,163.30 L104.30,166.41 L104.50,157.70 L104.70,148.14 L104.90,144.40 L105.10,146.83 L105.30,149.25 L105.50,146.75 L105.70,140.19 L105.90,133.63 L106.10,127.07 L106.30,120.50 L106.50,113.94 L106.70,114.77 L106.90,119.17 L107.10,123.58 L107.30,127.98 L107.50,132.38 L107.70,136.79 L107.90,141.19 L108.10,145.60 L108.30,150.00 L108.50,154.40 L108.70,152.32 L108.90,149.38 L109.10,146.44 L109.30,150.99 L109.50,155.98 L109.70,156.83 L109.90,153.53 L110.10,150.22 L110.30,146.91 L110.50,143.60 L110.70,140.30 L110.90,136.99 L111.10,133.68 L111.30,130.38 L111.50,127.07 L111.70,123.76 L111.90,120.45 L112.10,118.47 L112.30,120.26 L112.50,122.05 L112.70,123.83 L112.90,125.62 L113.10,127.41 L113.30,129.20 L113.50,130.99 L113.70,132.78 L113.90,134.56 L114.10,136.35 L114.30,138.14 L114.50,135.37 L114.70,132.60 L114.90,130.33 L115.10,135.53 L115.30,140.72 L115.50,145.91 L115.70,151.11 L115.90,156.30 L116.10,161.49 L116.30,166.69 L116.50,169.49 L116.70,164.29 L116.90,159.10 L117.10,153.91 L117.30,148.71 L117.50,143.52 L117.70,138.33 L117.90,135.87 L118.10,137.95 L118.30,140.03 L118.50,139.23 L118.70,134.79 L118.90,130.34 L119.10,125.89 L119.30,121.44 L119.50,116.99 L119.70,116.65 L119.90,119.46 L120.10,122.27 L120.30,125.09 L120.50,127.90 L120.70,130.72 L120.90,133.53 L121.10,136.34 L121.30,139.16 L121.50,141.97 L121.70,144.79 L121.90,147.60 L122.10,150.41 L122.30,153.23 L122.50,156.04 L122.70,158.86 L122.90,158.81 L123.10,154.65 L123.30,150.50 L123.50,150.93 L123.70,156.47 L123.90,162.01 L124.10,159.85 L124.30,151.02 L124.50,142.19 L124.70,133.36 L124.90,124.53 L125.10,115.70 L125.30,114.69 L125.50,117.67 L125.70,120.65 L125.90,123.63 L126.10,126.61 L126.30,129.59 L126.50,132.57 L126.70,135.55 L126.90,138.53 L127.10,141.51 L127.30,144.50 L127.50,145.37 L127.70,143.12 L127.90,140.87 L128.10,141.63 L128.30,145.85 L128.50,150.07 L128.70,154.29 L128.90,158.51 L129.10,162.73 L129.30,166.95 L129.50,171.17 L129.70,167.60 L129.90,159.52 L130.10,151.43 L130.30,143.35 L130.50,135.26 L130.70,127.18 L130.90,127.10 L131.10,129.57 L131.30,132.04 L131.50,134.51 L131.70,135.27 L131.90,132.91 L132.10,130.54 L132.30,128.18 L132.50,125.81 L132.70,123.45 L132.90,121.08 L133.10,124.12 L133.30,127.22 L133.50,130.33 L133.70,133.43 L133.90,136.53 L134.10,139.63 L134.30,142.74 L134.50,145.84 L134.70,148.94 L134.90,152.04 L135.10,155.14 L135.30,158.25 L135.50,161.35 L135.70,164.45 L135.90,163.72 L136.10,154.17 L136.30,144.61 L136.50,145.30 L136.70,147.72 L136.90,150.14 L137.10,144.32 L137.30,137.76 L137.50,131.20 L137.70,124.64 L137.90,118.08 L138.10,111.99 L138.30,116.40 L138.50,120.80 L138.70,125.20 L138.90,129.61 L139.10,134.01 L139.30,138.42 L139.50,142.82 L139.70,147.22 L139.90,151.63 L140.10,154.18 L140.30,151.23 L140.50,148.29 L140.70,147.85 L140.90,152.83 L141.10,157.82 L141.30,155.61 L141.50,152.30 L141.70,149.00 L141.90,145.69 L142.10,142.38 L142.30,139.07 L142.50,135.77 L142.70,132.46 L142.90,129.15 L143.10,125.85 L143.30,122.54 L143.50,119.23 L143.70,119.13 L143.90,120.92 L144.10,122.71 L144.30,124.50 L144.50,126.28 L144.70,128.07 L144.90,129.86 L145.10,131.65 L145.30,133.44 L145.50,135.23 L145.70,137.01 L145.90,137.12 L146.10,134.35 L146.30,131.58 L146.50,132.25 L146.70,137.45 L146.90,142.64 L147.10,147.83 L147.30,153.03 L147.50,158.22 L147.70,163.41 L147.90,168.61 L148.10,167.57 L148.30,162.37 L148.50,157.18 L148.70,151.99 L148.90,146.79 L149.10,141.60 L149.30,136.41 L149.50,136.64 L149.70,138.72 L149.90,140.80 L150.10,137.59 L150.30,133.14 L150.50,128.69 L150.70,124.24 L150.90,119.79 L151.10,115.35 L151.30,117.69 L151.50,120.50 L151.70,123.31 L151.90,126.13 L152.10,128.94 L152.30,131.76 L152.50,134.57 L152.70,137.38 L152.90,140.20 L153.10,143.01 L153.30,145.83 L153.50,148.64 L153.70,151.45 L153.90,154.27 L154.10,157.08 L154.30,159.90 L154.50,157.27 L154.70,153.12 L154.90,148.96 L155.10,152.98 L155.30,158.52 L155.50,164.06 L155.70,156.58 L155.90,147.75 L156.10,138.93 L156.30,130.10 L156.50,121.27 L156.70,112.81 L156.90,115.79 L157.10,118.77 L157.30,121.75 L157.50,124.73 L157.70,127.71 L157.90,130.69 L158.10,133.67 L158.30,136.66 L158.50,139.64 L158.70,142.62 L158.90,145.60 L159.10,144.54 L159.30,142.29 L159.50,140.04 L159.70,143.19 L159.90,147.41 L160.10,151.63 L160.30,155.85 L160.50,160.07 L160.70,164.29 L160.90,168.51 L161.10,172.70 L161.30,164.61 L161.50,156.53 L161.70,148.44 L161.90,140.36 L162.10,132.28 L162.30,125.54 L162.50,128.01 L162.70,130.48 L162.90,132.95 L163.10,135.42 L163.30,134.40 L163.50,132.03 L163.70,129.67 L163.90,127.30 L164.10,124.94 L164.30,122.57 L164.50,122.17 L164.70,125.27 L164.90,128.37 L165.10,131.47 L165.30,134.58 L165.50,137.68 L165.70,140.78 L165.90,143.88 L166.10,146.98 L166.30,150.09 L166.50,153.19 L166.70,156.29 L166.90,159.39 L167.10,162.50 L167.30,165.60 L167.50,160.19 L167.70,150.64 L167.90,143.77 L168.10,146.19 L168.30,148.62 L168.50,148.46 L168.70,141.90 L168.90,135.34 L169.10,128.78 L169.30,122.22 L169.50,115.65 L169.70,113.62 L169.90,118.02 L170.10,122.43 L170.30,126.83 L170.50,131.24 L170.70,135.64 L170.90,140.04 L171.10,144.45 L171.30,148.85 L171.50,153.26 L171.70,153.09 L171.90,150.15 L172.10,147.20 L172.30,149.69 L172.50,154.68 L172.70,157.70 L172.90,154.39 L173.10,151.08 L173.30,147.77 L173.50,144.47 L173.70,141.16 L173.90,137.85 L174.10,134.54 L174.30,131.24 L174.50,127.93 L174.70,124.62 L174.90,121.32 L175.10,118.01 L175.30,119.79 L175.50,121.58 L175.70,123.37 L175.90,125.16 L176.10,126.94 L176.30,128.73 L176.50,130.52 L176.70,132.31 L176.90,134.10 L177.10,135.89 L177.30,137.67 L177.50,136.09 L177.70,133.32 L177.90,130.55 L178.10,134.17 L178.30,139.37 L178.50,144.56 L178.70,149.75 L178.90,154.95 L179.10,160.14 L179.30,165.33 L179.50,170.53 L179.70,165.65 L179.90,160.45 L180.10,155.26 L180.30,150.07 L180.50,144.87 L180.70,139.68 L180.90,135.33 L181.10,137.41 L181.30,139.49 L181.50,140.40 L181.70,135.95 L181.90,131.50 L182.10,127.05 L182.30,122.60 L182.50,118.15 L182.70,115.91 L182.90,118.73 L183.10,121.54 L183.30,124.35 L183.50,127.17 L183.70,129.98 L183.90,132.80 L184.10,135.61 L184.30,138.42 L184.50,141.24 L184.70,144.05 L184.90,146.87 L185.10,149.68 L185.30,152.49 L185.50,155.31 L185.70,158.12 L185.90,159.89 L186.10,155.74 L186.30,151.58 L186.50,149.49 L186.70,155.03 L186.90,160.57 L187.10,162.15 L187.30,153.32 L187.50,144.49 L187.70,135.66 L187.90,126.83 L188.10,118.00 L188.30,113.91 L188.50,116.89 L188.70,119.87 L188.90,122.85 L189.10,125.83 L189.30,128.82 L189.50,131.80 L189.70,134.78 L189.90,137.76 L190.10,140.74 L190.30,143.72 L190.50,145.96 L190.70,143.71 L190.90,141.46 L191.10,140.53 L191.30,144.75 L191.50,148.97 L191.70,153.19 L191.90,157.41 L192.10,161.63 L192.30,165.85 L192.50,170.07 L192.70,169.71 L192.90,161.63 L193.10,153.54 L193.30,145.46 L193.50,137.37 L193.70,129.29 L193.90,126.45 L194.10,128.92 L194.30,131.39 L194.50,133.86 L194.70,135.89 L194.90,133.52 L195.10,131.16 L195.30,128.79 L195.50,126.43 L195.70,124.06 L195.90,121.70 L196.10,123.31 L196.30,126.42 L196.50,129.52 L196.70,132.62 L196.90,135.72 L197.10,138.82 L197.30,141.93 L197.50,145.03 L197.70,148.13 L197.90,151.23 L198.10,154.34 L198.30,157.44 L198.50,160.54 L198.70,163.64 L198.90,166.22 L199.10,156.66 L199.30,147.10 L199.50,144.67 L199.70,147.09 L199.90,149.51 L200.10,146.03 L200.30,139.47 L200.50,132.91 L200.70,126.35 L200.90,119.79 L201.10,113.23 L201.30,115.25 L201.50,119.65 L201.70,124.06 L201.90,128.46 L202.10,132.86 L202.30,137.27 L202.50,141.67 L202.70,146.08 L202.90,150.48 L203.10,154.88 L203.30,152.00 L203.50,149.06 L203.70,146.55 L203.90,151.53 L204.10,156.52 L204.30,156.47 L204.50,153.17 L204.70,149.86 L204.90,146.55 L205.10,143.24 L205.30,139.94 L205.50,136.63" stroke="#3a82cc" stroke-width="0.95" filter="url(#soft)"/>
<path d="M268.90,130.88 L269.10,127.57 L269.30,124.26 L269.50,120.96 L269.70,118.20 L269.90,119.99 L270.10,121.77 L270.30,123.56 L270.50,125.35 L270.70,127.14 L270.90,128.93 L271.10,130.72 L271.30,132.50 L271.50,134.29 L271.70,136.08 L271.90,137.87 L272.10,135.79 L272.30,133.02 L272.50,130.25 L272.70,134.74 L272.90,139.93 L273.10,145.12 L273.30,150.32 L273.50,155.51 L273.70,160.70 L273.90,165.90 L274.10,170.28 L274.30,165.08 L274.50,159.89 L274.70,154.69 L274.90,149.50 L275.10,144.31 L275.30,139.11 L275.50,135.56 L275.70,137.63 L275.90,139.71 L276.10,139.91 L276.30,135.46 L276.50,131.01 L276.70,126.56 L276.90,122.11 L277.10,117.67 L277.30,116.22 L277.50,119.03 L277.70,121.85 L277.90,124.66 L278.10,127.47 L278.30,130.29 L278.50,133.10 L278.70,135.92 L278.90,138.73 L279.10,141.54 L279.30,144.36 L279.50,147.17 L279.70,149.99 L279.90,152.80 L280.10,155.61 L280.30,158.43 L280.50,159.44 L280.70,155.28 L280.90,151.13 L281.10,150.09 L281.30,155.63 L281.50,161.17 L281.70,161.19 L281.90,152.36 L282.10,143.53 L282.30,134.70 L282.50,125.87 L282.70,117.04 L282.90,114.24 L283.10,117.22 L283.30,120.20 L283.50,123.18 L283.70,126.16 L283.90,129.14 L284.10,132.12 L284.30,135.10 L284.50,138.08 L284.70,141.06 L284.90,144.04 L285.10,145.71 L285.30,143.46 L285.50,141.21 L285.70,140.99 L285.90,145.21 L286.10,149.43 L286.30,153.65 L286.50,157.87 L286.70,162.09 L286.90,166.31 L287.10,170.53 L287.30,168.83 L287.50,160.75 L287.70,152.66 L287.90,144.58 L288.10,136.49 L288.30,128.41 L288.50,126.72 L288.70,129.19 L288.90,131.66 L289.10,134.13 L289.30,135.63 L289.50,133.27 L289.70,130.90 L289.90,128.54 L290.10,126.17 L290.30,123.81 L290.50,121.44 L290.70,123.65 L290.90,126.75 L291.10,129.86 L291.30,132.96 L291.50,136.06 L291.70,139.16 L291.90,142.26 L292.10,145.37 L292.30,148.47 L292.50,151.57 L292.70,154.67 L292.90,157.78 L293.10,160.88 L293.30,163.98 L293.50,165.18 L293.70,155.62 L293.90,146.07 L294.10,144.93 L294.30,147.35 L294.50,149.78 L294.70,145.32 L294.90,138.76 L295.10,132.20 L295.30,125.64 L295.50,119.08 L295.70,112.52 L295.90,115.73 L296.10,120.13 L296.30,124.53 L296.50,128.94 L296.70,133.34 L296.90,137.75 L297.10,142.15 L297.30,146.55 L297.50,150.96 L297.70,154.62 L297.90,151.68 L298.10,148.74 L298.30,147.09 L298.50,152.08 L298.70,157.06 L298.90,156.11 L299.10,152.81 L299.30,149.50 L299.50,146.19 L299.70,142.88 L299.90,139.58 L300.10,136.27 L300.30,132.96 L300.50,129.66 L300.70,126.35 L300.90,123.04 L301.10,119.73 L301.30,118.86 L301.50,120.65 L301.70,122.44 L301.90,124.22 L302.10,126.01 L302.30,127.80 L302.50,129.59 L302.70,131.38 L302.90,133.17 L303.10,134.95 L303.30,136.74 L303.50,137.54 L303.70,134.77 L303.90,132.00 L304.10,131.46 L304.30,136.66 L304.50,141.85 L304.70,147.04 L304.90,152.24 L305.10,157.43 L305.30,162.62 L305.50,167.82 L305.70,168.36 L305.90,163.16 L306.10,157.97 L306.30,152.78 L306.50,147.58 L306.70,142.39 L306.90,137.20 L307.10,136.33 L307.30,138.40 L307.50,140.48 L307.70,138.27 L307.90,133.82 L308.10,129.37 L308.30,124.92 L308.50,120.47 L308.70,116.02 L308.90,117.26 L309.10,120.07 L309.30,122.89 L309.50,125.70 L309.70,128.51 L309.90,131.33 L310.10,134.14 L310.30,136.96 L310.50,139.77 L310.70,142.58 L310.90,145.40 L311.10,148.21 L311.30,151.03 L311.50,153.84 L311.70,156.65 L311.90,159.47 L312.10,157.90 L312.30,153.75 L312.50,149.59 L312.70,152.14 L312.90,157.68 L313.10,163.22 L313.30,157.93 L313.50,149.10 L313.70,140.27 L313.90,131.44 L314.10,122.61 L314.30,113.78 L314.50,115.34 L314.70,118.32 L314.90,121.30 L315.10,124.28 L315.30,127.26 L315.50,130.24 L315.70,133.22 L315.90,136.20 L316.10,139.18 L316.30,142.16 L316.50,145.14 L316.70,144.88 L316.90,142.63 L317.10,140.38 L317.30,142.55 L317.50,146.77 L317.70,150.99 L317.90,155.21 L318.10,159.43 L318.30,163.65 L318.50,167.87 L318.70,172.09 L318.90,165.84 L319.10,157.76 L319.30,149.67 L319.50,141.59 L319.70,133.50 L319.90,125.42 L320.10,127.64 L320.30,130.11 L320.50,132.58 L320.70,135.05 L320.90,134.76 L321.10,132.39 L321.30,130.03 L321.50,127.66 L321.70,125.30 L321.90,122.93 L322.10,121.70 L322.30,124.80 L322.50,127.90 L322.70,131.00 L322.90,134.10 L323.10,137.21 L323.30,140.31 L323.50,143.41 L323.70,146.51 L323.90,149.62 L324.10,152.72 L324.30,155.82 L324.50,158.92 L324.70,162.02 L324.90,165.13 L325.10,161.65 L325.30,152.09 L325.50,143.40 L325.70,145.82 L325.90,148.25 L326.10,149.46 L326.30,142.90 L326.50,136.33 L326.70,129.77 L326.90,123.21 L327.10,116.65 L327.30,112.95 L327.50,117.35 L327.70,121.76 L327.90,126.16 L328.10,130.57 L328.30,134.97 L328.50,139.37 L328.70,143.78 L328.90,148.18 L329.10,152.59 L329.30,153.54 L329.50,150.59 L329.70,147.65 L329.90,148.93 L330.10,153.92 L330.30,158.20 L330.50,154.89 L330.70,151.58 L330.90,148.28 L331.10,144.97 L331.30,141.66 L331.50,138.35 L331.70,135.05 L331.90,131.74 L332.10,128.43 L332.30,125.13 L332.50,121.82 L332.70,118.51 L332.90,119.52 L333.10,121.31 L333.30,123.10 L333.50,124.88 L333.70,126.67 L333.90,128.46 L334.10,130.25 L334.30,132.04 L334.50,133.83 L334.70,135.61 L334.90,137.40 L335.10,136.51 L335.30,133.74 L335.50,130.97 L335.70,133.38 L335.90,138.58 L336.10,143.77 L336.30,148.96 L336.50,154.16 L336.70,159.35 L336.90,164.54 L337.10,169.74 L337.30,166.44 L337.50,161.24 L337.70,156.05 L337.90,150.86 L338.10,145.66 L338.30,140.47 L338.50,135.28 L338.70,137.09 L338.90,139.17 L339.10,141.07 L339.30,136.62 L339.50,132.17 L339.70,127.72 L339.90,123.28 L340.10,118.83 L340.30,115.49 L340.50,118.30 L340.70,121.11 L340.90,123.93 L341.10,126.74 L341.30,129.55 L341.50,132.37 L341.70,135.18 L341.90,138.00 L342.10,140.81 L342.30,143.62 L342.50,146.44 L342.70,149.25 L342.90,152.07 L343.10,154.88 L343.30,157.69 L343.50,160.51 L343.70,156.37 L343.90,152.21 L344.10,148.65 L344.30,154.19 L344.50,159.73 L344.70,163.49 L344.90,154.66 L345.10,145.83 L345.30,137.00 L345.50,128.18 L345.70,119.35 L345.90,113.46 L346.10,116.44 L346.30,119.42 L346.50,122.40 L346.70,125.38 L346.90,128.36 L347.10,131.34 L347.30,134.32 L347.50,137.30 L347.70,140.28 L347.90,143.27 L348.10,146.25 L348.30,144.05 L348.50,141.80 L348.70,139.89 L348.90,144.11 L349.10,148.33 L349.30,152.55 L349.50,156.77 L349.70,160.99 L349.90,165.21 L350.10,169.43 L350.30,170.94 L350.50,162.85 L350.70,154.77 L350.90,146.69 L351.10,138.60 L351.30,130.52 L351.50,126.08 L351.70,128.55 L351.90,131.02 L352.10,133.49 L352.30,135.96 L352.50,133.88 L352.70,131.52 L352.90,129.15 L353.10,126.79 L353.30,124.42 L353.50,122.06 L353.70,122.84 L353.90,125.94 L354.10,129.05 L354.30,132.15 L354.50,135.25 L354.70,138.35 L354.90,141.46 L355.10,144.56 L355.30,147.66 L355.50,150.76 L355.70,153.86 L355.90,156.97 L356.10,160.07 L356.30,163.17 L356.50,166.27 L356.70,158.11 L356.90,148.56 L357.10,144.30 L357.30,146.72 L357.50,149.14 L357.70,147.03 L357.90,140.47 L358.10,133.91 L358.30,127.35 L358.50,120.79 L358.70,114.23 L358.90,114.58 L359.10,118.98 L359.30,123.39 L359.50,127.79 L359.70,132.19 L359.90,136.60 L360.10,141.00 L360.30,145.41 L360.50,149.81 L360.70,154.21 L360.90,152.45 L361.10,149.51 L361.30,146.56 L361.50,150.78 L361.70,155.76 L361.90,156.98 L362.10,153.67 L362.30,150.36 L362.50,147.05 L362.70,143.75 L362.90,140.44 L363.10,137.13 L363.30,133.83 L363.50,130.52 L363.70,127.21 L363.90,123.90 L364.10,120.60 L364.30,118.39 L364.50,120.18 L364.70,121.97 L364.90,123.76 L365.10,125.55 L365.30,127.33 L365.50,129.12 L365.70,130.91 L365.90,132.70 L366.10,134.49 L366.30,136.28 L366.50,138.06 L366.70,135.49 L366.90,132.72 L367.10,130.11 L367.30,135.30 L367.50,140.50 L367.70,145.69 L367.90,150.88 L368.10,156.08 L368.30,161.27 L368.50,166.46 L368.70,169.71 L368.90,164.52 L369.10,159.32 L369.30,154.13 L369.50,148.94 L369.70,143.74 L369.90,138.55 L370.10,135.78 L370.30,137.86 L370.50,139.94 L370.70,139.43 L370.90,134.98 L371.10,130.53 L371.30,126.08 L371.50,121.63 L371.70,117.18 L371.90,116.53 L372.10,119.34 L372.30,122.15 L372.50,124.97 L372.70,127.78 L372.90,130.59 L373.10,133.41 L373.30,136.22 L373.50,139.04 L373.70,141.85 L373.90,144.66 L374.10,147.48 L374.30,150.29 L374.50,153.11 L374.70,155.92 L374.90,158.73 L375.10,158.99 L375.30,154.83 L375.50,150.68 L375.70,150.69 L375.90,156.23 L376.10,161.77 L376.30,160.23 L376.50,151.40 L376.70,142.57 L376.90,133.74 L377.10,124.91 L377.30,116.08 L377.50,114.56 L377.70,117.54 L377.90,120.52 L378.10,123.50 L378.30,126.48 L378.50,129.46 L378.70,132.44 L378.90,135.43 L379.10,138.41 L379.30,141.39 L379.50,144.37 L379.70,145.47 L379.90,143.22 L380.10,140.97 L380.30,141.45 L380.50,145.67 L380.70,149.89 L380.90,154.11 L381.10,158.33 L381.30,162.55 L381.50,166.77 L381.70,170.99 L381.90,167.95 L382.10,159.87 L382.30,151.78 L382.50,143.70 L382.70,135.61 L382.90,127.53 L383.10,126.99 L383.30,129.46 L383.50,131.93 L383.70,134.40 L383.90,135.38 L384.10,133.01 L384.30,130.65 L384.50,128.28 L384.70,125.92 L384.90,123.55 L385.10,121.19 L385.30,123.99 L385.50,127.09 L385.70,130.19 L385.90,133.30 L386.10,136.40 L386.30,139.50 L386.50,142.60 L386.70,145.70 L386.90,148.81 L387.10,151.91 L387.30,155.01 L387.50,158.11 L387.70,161.22 L387.90,164.32 L388.10,164.14 L388.30,154.58 L388.50,145.03 L388.70,145.19 L388.90,147.62 L389.10,150.04 L389.30,144.61 L389.50,138.05 L389.70,131.48 L389.90,124.92 L390.10,118.36 L390.30,111.80 L390.50,116.21 L390.70,120.61 L390.90,125.01 L391.10,129.42 L391.30,133.82 L391.50,138.23 L391.70,142.63 L391.90,147.03 L392.10,151.44 L392.30,154.30 L392.50,151.36 L392.70,148.42 L392.90,147.63 L395.20,161.20" stroke="#3a82cc" stroke-width="0.95" filter="url(#soft)"/>
<path d="M205.60,145.69 L205.80,142.24 L206.00,138.76 L206.20,135.41 L206.40,132.31 L206.60,129.58 L206.80,127.34 L207.00,125.67 L207.20,124.65 L207.40,124.30 L207.60,124.65 L207.80,125.67 L208.00,127.34 L208.20,129.58 L208.40,132.31 L208.60,135.41 L208.80,138.76 L209.00,142.24 L209.20,145.69 L209.40,149.00 L209.60,152.02 L209.80,154.63 L210.00,156.73 L210.20,158.24 L210.40,159.10 L210.60,159.28 L210.80,158.76 L211.00,157.57 L211.20,155.75 L211.40,153.38 L211.60,150.55 L211.80,147.37 L212.00,143.98 L212.20,140.49 L212.40,137.06 L212.60,133.82 L212.80,130.89 L213.00,128.39 L213.20,126.43 L213.40,125.08 L213.60,124.39 L213.80,124.39 L214.00,125.08 L214.20,126.43 L214.40,128.39 L214.60,130.89 L214.80,133.82 L215.00,137.06 L215.20,140.49 L215.40,143.98 L215.60,147.37 L215.80,150.55 L216.00,153.38 L216.20,155.75 L216.40,157.57 L216.60,158.76 L216.80,159.28 L217.00,159.10 L217.20,158.24 L217.40,156.73 L217.60,154.63 L217.80,152.02 L218.00,149.00 L218.20,145.69 L218.40,142.24 L218.60,138.76 L218.80,135.41 L219.00,132.31 L219.20,129.58 L219.40,127.34 L219.60,125.67 L219.80,124.65 L220.00,124.30 L220.20,124.65 L220.40,125.67 L220.60,127.34 L220.80,129.58 L221.00,132.31 L221.20,135.41 L221.40,138.76 L221.60,142.24 L221.80,145.69 L222.00,149.00 L222.20,152.02 L222.40,154.63 L222.60,156.73 L222.80,158.24 L223.00,159.10 L223.20,159.28 L223.40,158.76 L223.60,157.57 L223.80,155.75 L224.00,153.38 L224.20,150.55 L224.40,147.37 L224.60,143.98 L224.80,140.49 L225.00,137.06 L225.20,133.82 L225.40,130.89 L225.60,128.39 L225.80,126.43 L226.00,125.08 L226.20,124.39 L226.40,124.39 L226.60,125.08 L226.80,126.43 L227.00,128.39 L227.20,130.89 L227.40,133.82 L227.60,137.06 L227.80,140.49 L228.00,143.98 L228.20,147.37 L228.40,150.55 L228.60,153.38 L228.80,155.75 L229.00,157.57 L229.20,158.76 L229.40,159.28 L229.60,159.10 L229.80,158.24 L230.00,156.73 L230.20,154.63 L230.40,152.02 L230.60,149.00 L230.80,145.69 L231.00,142.24 L231.20,138.76 L231.40,135.41 L231.60,132.31 L231.80,129.58 L232.00,127.34 L232.20,125.67 L232.40,124.65 L232.60,124.30 L232.80,124.65 L233.00,125.67 L233.20,127.34 L233.40,129.58 L233.60,132.31 L233.80,135.41 L234.00,138.76 L234.20,142.24 L234.40,145.69 L234.60,149.00 L234.80,152.02 L235.00,154.63 L235.20,156.73 L235.40,158.24 L235.60,159.10 L235.80,159.28 L236.00,158.76 L236.20,157.57 L236.40,155.75 L236.60,153.38 L236.80,150.55 L237.00,147.37 L237.20,143.98 L237.40,140.49 L237.60,137.06 L237.80,133.82 L238.00,130.89 L238.20,128.39 L238.40,126.43 L238.60,125.08 L238.80,124.39 L239.00,124.39 L239.20,125.08 L239.40,126.43 L239.60,128.39 L239.80,130.89 L240.00,133.82 L240.20,137.06 L240.40,140.49 L240.60,143.98 L240.80,147.37 L241.00,150.55 L241.20,153.38 L241.40,155.75 L241.60,157.57 L241.80,158.76 L242.00,159.28 L242.20,159.10 L242.40,158.24 L242.60,156.73 L242.80,154.63 L243.00,152.02 L243.20,149.00 L243.40,145.69 L243.60,142.24 L243.80,138.76 L244.00,135.41 L244.20,132.31 L244.40,129.58 L244.60,127.34 L244.80,125.67 L245.00,124.65 L245.20,124.30 L245.40,124.65 L245.60,125.67 L245.80,127.34 L246.00,129.58 L246.20,132.31 L246.40,135.41 L246.60,138.76 L246.80,142.24 L247.00,145.69 L247.20,149.00 L247.40,152.02 L247.60,154.63 L247.80,156.73 L248.00,158.24 L248.20,159.10 L248.40,159.28 L248.60,158.76 L248.80,157.57 L249.00,155.75 L249.20,153.38 L249.40,150.55 L249.60,147.37 L249.80,143.98 L250.00,140.49 L250.20,137.06 L250.40,133.82 L250.60,130.89 L250.80,128.39 L251.00,126.43 L251.20,125.08 L251.40,124.39 L251.60,124.39 L251.80,125.08 L252.00,126.43 L252.20,128.39 L252.40,130.89 L252.60,133.82 L252.80,137.06 L253.00,140.49 L253.20,143.98 L253.40,147.37 L253.60,150.55 L253.80,153.38 L254.00,155.75 L254.20,157.57 L254.40,158.76 L254.60,159.28 L254.80,159.10 L255.00,158.24 L255.20,156.73 L255.40,154.63 L255.60,152.02 L255.80,149.00 L256.00,145.69 L256.20,142.24 L256.40,138.76 L256.60,135.41 L256.80,132.31 L257.00,129.58 L257.20,127.34 L257.40,125.67 L257.60,124.65 L257.80,124.30 L258.00,124.65 L258.20,125.67 L258.40,127.34 L258.60,129.58 L258.80,132.31 L259.00,135.41 L259.20,138.76 L259.40,142.24 L259.60,145.69 L259.80,149.00 L260.00,152.02 L260.20,154.63 L260.40,156.73 L260.60,158.24 L260.80,159.10 L261.00,159.28 L261.20,158.76 L261.40,157.57 L261.60,155.75 L261.80,153.38 L262.00,150.55 L262.20,147.37 L262.40,143.98 L262.60,140.49 L262.80,137.06 L263.00,133.82 L263.20,130.89 L263.40,128.39 L263.60,126.43 L263.80,125.08 L264.00,124.39 L264.20,124.39 L264.40,125.08 L264.60,126.43 L264.80,128.39 L265.00,130.89 L265.20,133.82 L265.40,137.06 L265.60,140.49 L265.80,143.98 L266.00,147.37 L266.20,150.55 L266.40,153.38 L266.60,155.75 L266.80,157.57 L267.00,158.76 L267.20,159.28 L267.40,159.10 L267.60,158.24 L267.80,156.73 L268.00,154.63 L268.20,152.02 L268.40,149.00 L268.60,145.69 L268.80,142.24" stroke="#4a3450" stroke-width="0.70" filter="url(#soft)"/>
<rect x="267.6" y="192.6" width="67" height="62.8" fill="#fca2a8"/>
<path d="M76.30,205.66 L76.50,207.44 L76.70,209.21 L76.90,210.99 L77.10,212.76 L77.30,214.54 L77.50,216.31 L77.70,218.09 L77.90,219.86 L78.10,219.71 L78.30,216.96 L78.50,214.22 L78.70,214.75 L78.90,219.91 L79.10,225.06 L79.30,230.21 L79.50,235.37 L79.70,240.52 L79.90,245.67 L80.10,250.83 L80.30,251.95 L80.50,246.80 L80.70,241.65 L80.90,236.49 L81.10,231.34 L81.30,226.19 L81.50,221.03 L81.70,218.54 L81.90,220.60 L82.10,222.66 L82.30,222.40 L82.50,217.98 L82.70,213.57 L82.90,209.15 L83.10,204.74 L83.30,200.32 L83.50,198.36 L83.70,201.15 L83.90,203.95 L84.10,206.74 L84.30,209.53 L84.50,212.32 L84.70,215.12 L84.90,217.91 L85.10,220.70 L85.30,223.49 L85.50,226.28 L85.70,229.08 L85.90,231.87 L86.10,234.66 L86.30,237.45 L86.50,240.24 L86.70,243.04 L86.90,240.38 L87.10,236.25 L87.30,232.13 L87.50,235.50 L87.70,241.00 L87.90,246.50 L88.10,241.02 L88.30,232.26 L88.50,223.50 L88.70,214.74 L88.90,205.98 L89.10,197.22 L89.30,197.25 L89.50,200.21 L89.70,203.17 L89.90,206.13 L90.10,209.09 L90.30,212.04 L90.50,215.00 L90.70,217.96 L90.90,220.92 L91.10,223.87 L91.30,226.83 L91.50,228.67 L91.70,226.44 L91.90,224.21 L92.10,223.29 L92.30,227.48 L92.50,231.67 L92.70,235.85 L92.90,240.04 L93.10,244.23 L93.30,248.41 L93.50,252.60 L93.70,254.59 L93.90,246.56 L94.10,238.54 L94.30,230.52 L94.50,222.50 L94.70,214.48 L94.90,208.15 L95.10,210.60 L95.30,213.05 L95.50,215.50 L95.70,217.95 L95.90,217.29 L96.10,214.95 L96.30,212.60 L96.50,210.25 L96.70,207.91 L96.90,205.56 L97.10,203.90 L97.30,206.98 L97.50,210.06 L97.70,213.14 L97.90,216.22 L98.10,219.29 L98.30,222.37 L98.50,225.45 L98.70,228.53 L98.90,231.61 L99.10,234.69 L99.30,237.76 L99.50,240.84 L99.70,243.92 L99.90,247.00 L100.10,249.07 L100.30,239.59 L100.50,230.11 L100.70,227.43 L100.90,229.83 L101.10,232.24 L101.30,229.62 L101.50,223.11 L101.70,216.60 L101.90,210.09 L102.10,203.58 L102.30,197.07 L102.50,196.48 L102.70,200.85 L102.90,205.22 L103.10,209.59 L103.30,213.96 L103.50,218.33 L103.70,222.70 L103.90,227.07 L104.10,231.44 L104.30,235.81 L104.50,236.44 L104.70,233.52 L104.90,230.60 L105.10,231.64 L105.30,236.59 L105.50,241.54 L105.70,238.29 L105.90,235.01 L106.10,231.73 L106.30,228.45 L106.50,225.17 L106.70,221.88 L106.90,218.60 L107.10,215.32 L107.30,212.04 L107.50,208.76 L107.70,205.48 L107.90,202.19 L108.10,201.22 L108.30,202.99 L108.50,204.77 L108.70,206.54 L108.90,208.32 L109.10,210.09 L109.30,211.87 L109.50,213.64 L109.70,215.42 L109.90,217.19 L110.10,218.97 L110.30,220.74 L110.50,218.35 L110.70,215.60 L110.90,212.86 L111.10,217.30 L111.30,222.46 L111.50,227.61 L111.70,232.76 L111.90,237.92 L112.10,243.07 L112.30,248.22 L112.50,253.38 L112.70,249.40 L112.90,244.25 L113.10,239.10 L113.30,233.94 L113.50,228.79 L113.70,223.64 L113.90,218.48 L114.10,219.56 L114.30,221.62 L114.50,223.68 L114.70,220.21 L114.90,215.80 L115.10,211.38 L115.30,206.97 L115.50,202.55 L115.70,198.14 L115.90,199.74 L116.10,202.54 L116.30,205.33 L116.50,208.12 L116.70,210.91 L116.90,213.71 L117.10,216.50 L117.30,219.29 L117.50,222.08 L117.70,224.87 L117.90,227.67 L118.10,230.46 L118.30,233.25 L118.50,236.04 L118.70,238.83 L118.90,241.63 L119.10,242.46 L119.30,238.33 L119.50,234.21 L119.70,232.73 L119.90,238.22 L120.10,243.72 L120.30,245.44 L120.50,236.68 L120.70,227.92 L120.90,219.16 L121.10,210.40 L121.30,201.64 L121.50,195.76 L121.70,198.72 L121.90,201.68 L122.10,204.63 L122.30,207.59 L122.50,210.55 L122.70,213.51 L122.90,216.46 L123.10,219.42 L123.30,222.38 L123.50,225.34 L123.70,228.29 L123.90,227.57 L124.10,225.33 L124.30,223.10 L124.50,225.37 L124.70,229.55 L124.90,233.74 L125.10,237.93 L125.30,242.11 L125.50,246.30 L125.70,250.49 L125.90,254.68 L126.10,250.62 L126.30,242.59 L126.50,234.57 L126.70,226.55 L126.90,218.53 L127.10,210.51 L127.30,209.36 L127.50,211.81 L127.70,214.26 L127.90,216.71 L128.10,218.48 L128.30,216.13 L128.50,213.79 L128.70,211.44 L128.90,209.09 L129.10,206.75 L129.30,204.40 L129.50,205.43 L129.70,208.51 L129.90,211.58 L130.10,214.66 L130.30,217.74 L130.50,220.82 L130.70,223.90 L130.90,226.97 L131.10,230.05 L131.30,233.13 L131.50,236.21 L131.70,239.29 L131.90,242.37 L132.10,245.44 L132.30,248.52 L132.50,244.38 L132.70,234.89 L132.90,226.21 L133.10,228.62 L133.30,231.02 L133.50,232.91 L133.70,226.40 L133.90,219.89 L134.10,213.38 L134.30,206.87 L134.50,200.36 L134.70,194.27 L134.90,198.64 L135.10,203.01 L135.30,207.38 L135.50,211.75 L135.70,216.12 L135.90,220.49 L136.10,224.86 L136.30,229.23 L136.50,233.60 L136.70,237.92 L136.90,235.00 L137.10,232.08 L137.30,229.16 L137.50,234.09 L137.70,239.04 L137.90,239.95 L138.10,236.67 L138.30,233.39 L138.50,230.10 L138.70,226.82 L138.90,223.54 L139.10,220.26 L139.30,216.98 L139.50,213.70 L139.70,210.42 L139.90,207.13 L140.10,203.85 L140.30,200.57 L140.50,202.10 L140.70,203.87 L140.90,205.65 L141.10,207.42 L141.30,209.20 L141.50,210.97 L141.70,212.75 L141.90,214.52 L142.10,216.29 L142.30,218.07 L142.50,219.84 L142.70,219.74 L142.90,216.99 L143.10,214.24 L143.30,214.70 L143.50,219.85 L143.70,225.01 L143.90,230.16 L144.10,235.31 L144.30,240.47 L144.50,245.62 L144.70,250.77 L144.90,252.00 L145.10,246.85 L145.30,241.70 L145.50,236.54 L145.70,231.39 L145.90,226.24 L146.10,221.08 L146.30,218.52 L146.50,220.58 L146.70,222.64 L146.90,222.44 L147.10,218.03 L147.30,213.61 L147.50,209.20 L147.70,204.78 L147.90,200.37 L148.10,198.33 L148.30,201.13 L148.50,203.92 L148.70,206.71 L148.90,209.50 L149.10,212.30 L149.30,215.09 L149.50,217.88 L149.70,220.67 L149.90,223.46 L150.10,226.26 L150.30,229.05 L150.50,231.84 L150.70,234.63 L150.90,237.43 L151.10,240.22 L151.30,243.01 L151.50,240.42 L151.70,236.29 L151.90,232.17 L152.10,235.45 L152.30,240.95 L152.50,246.44 L152.70,241.10 L152.90,232.34 L153.10,223.58 L153.30,214.82 L153.50,206.06 L153.70,197.30 L153.90,197.23 L154.10,200.18 L154.30,203.14 L154.50,206.10 L154.70,209.06 L154.90,212.01 L155.10,214.97 L155.30,217.93 L155.50,220.89 L155.70,223.84 L155.90,226.80 L156.10,228.69 L156.30,226.46 L156.50,224.23 L156.70,223.25 L156.90,227.44 L157.10,231.63 L157.30,235.81 L157.50,240.00 L157.70,244.19 L157.90,248.37 L158.10,252.56 L158.30,254.67 L158.50,246.64 L158.70,238.62 L158.90,230.60 L159.10,222.58 L159.30,214.56 L159.50,208.12 L159.70,210.57 L159.90,213.02 L160.10,215.47 L160.30,217.93 L160.50,217.32 L160.70,214.97 L160.90,212.62 L161.10,210.28 L161.30,207.93 L161.50,205.58 L161.70,203.87 L161.90,206.95 L162.10,210.03 L162.30,213.11 L162.50,216.19 L162.70,219.26 L162.90,222.34 L163.10,225.42 L163.30,228.50 L163.50,231.58 L163.70,234.66 L163.90,237.73 L164.10,240.81 L164.30,243.89 L164.50,246.97 L164.70,249.16 L164.90,239.68 L165.10,230.20 L165.30,227.40 L165.50,229.81 L165.70,232.21 L165.90,229.69 L166.10,223.18 L166.30,216.67 L166.50,210.16 L166.70,203.65 L166.90,197.14 L167.10,196.44 L167.30,200.81 L167.50,205.18 L167.70,209.55 L167.90,213.92 L168.10,218.29 L168.30,222.66 L168.50,227.03 L168.70,231.40 L168.90,235.77 L169.10,236.47 L169.30,233.55 L169.50,230.63 L169.70,231.59 L169.90,236.54 L170.10,241.49 L170.30,238.32 L170.50,235.04 L170.70,231.76 L170.90,228.48 L171.10,225.20 L171.30,221.92 L171.50,218.64 L171.70,215.35 L171.90,212.07 L172.10,208.79 L172.30,205.51 L172.50,202.23 L172.70,201.20 L172.90,202.98 L173.10,204.75 L173.30,206.53 L173.50,208.30 L173.70,210.07 L173.90,211.85 L174.10,213.62 L174.30,215.40 L174.50,217.17 L174.70,218.95 L174.90,220.72 L175.10,218.38 L175.30,215.63 L175.50,212.88 L175.70,217.25 L175.90,222.41 L176.10,227.56 L176.30,232.71 L176.50,237.87 L176.70,243.02 L176.90,248.17 L177.10,253.33 L177.30,249.45 L177.50,244.30 L177.70,239.15 L177.90,233.99 L178.10,228.84 L178.30,223.69 L178.50,218.53 L178.70,219.54 L178.90,221.60 L179.10,223.66 L179.30,220.25 L179.50,215.84 L179.70,211.43 L179.90,207.01 L180.10,202.60 L180.30,198.18 L180.50,199.72 L180.70,202.51 L180.90,205.30 L181.10,208.09 L181.30,210.89 L181.50,213.68 L181.70,216.47 L181.90,219.26 L182.10,222.05 L182.30,224.85 L182.50,227.64 L182.70,230.43 L182.90,233.22 L183.10,236.02 L183.30,238.81 L183.50,241.60 L183.70,242.50 L183.90,238.38 L184.10,234.25 L184.30,232.67 L184.50,238.17 L184.70,243.67 L184.90,245.53 L185.10,236.77 L185.30,228.01 L185.50,219.25 L185.70,210.49 L185.90,201.72 L186.10,195.73 L186.30,198.69 L186.50,201.65 L186.70,204.61 L186.90,207.56 L187.10,210.52 L187.30,213.48 L187.50,216.44 L187.70,219.39 L187.90,222.35 L188.10,225.31 L188.30,228.27 L188.50,227.59 L188.70,225.36 L188.90,223.12 L189.10,225.32 L189.30,229.51 L189.50,233.70 L189.70,237.89 L189.90,242.07 L190.10,246.26 L190.30,250.45 L190.50,254.63 L190.70,250.69 L190.90,242.67 L191.10,234.65 L191.30,226.63 L191.50,218.61 L191.70,210.58 L191.90,209.34 L192.10,211.79 L192.30,214.24 L192.50,216.69 L192.70,218.50 L192.90,216.16 L193.10,213.81 L193.30,211.46 L193.50,209.11 L193.70,206.77 L193.90,204.42 L194.10,205.40 L194.30,208.48 L194.50,211.55 L194.70,214.63 L194.90,217.71 L195.10,220.79 L195.30,223.87 L195.50,226.94 L195.70,230.02 L195.90,233.10 L196.10,236.18 L196.30,239.26 L196.50,242.34 L196.70,245.41 L196.90,248.49 L197.10,244.47 L197.30,234.99 L197.50,226.19 L197.70,228.59 L197.90,231.00 L198.10,232.97 L198.30,226.46 L198.50,219.95 L198.70,213.44 L198.90,206.93 L199.10,200.42 L199.30,194.23 L199.50,198.60 L199.70,202.97 L199.90,207.34 L200.10,211.71 L200.30,216.08 L200.50,220.45 L200.70,224.82 L200.90,229.19 L201.10,233.56 L201.30,237.93 L201.50,235.03 L201.70,232.11 L201.90,229.19 L202.10,234.04 L202.30,238.99 L202.50,239.98 L202.70,236.70 L202.90,233.42 L203.10,230.14 L203.30,226.86 L203.50,223.57 L203.70,220.29 L203.90,217.01 L204.10,213.73 L204.30,210.45 L204.50,207.17 L204.70,203.88 L204.90,200.60 L205.10,202.08 L205.30,203.86 L205.50,205.63 L205.70,207.40 L205.90,209.18 L206.10,210.95 L206.30,212.73 L206.50,214.50 L206.70,216.28 L206.90,218.05 L207.10,219.83 L207.30,219.77 L207.50,217.02 L207.70,214.27 L207.90,214.65 L208.10,219.80 L208.30,224.96 L208.50,230.11 L208.70,235.26 L208.90,240.42 L209.10,245.57 L209.30,250.72 L209.50,252.05 L209.70,246.90 L209.90,241.75 L210.10,236.59 L210.30,231.44 L210.50,226.29 L210.70,221.13 L210.90,218.50 L211.10,220.56 L211.30,222.62 L211.50,222.48 L211.70,218.07 L211.90,213.65 L212.10,209.24 L212.30,204.83 L212.50,200.41 L212.70,198.31 L212.90,201.10 L213.10,203.89 L213.30,206.68 L213.50,209.48 L213.70,212.27 L213.90,215.06 L214.10,217.85 L214.30,220.64 L214.50,223.44 L214.70,226.23 L214.90,229.02 L215.10,231.81 L215.30,234.61 L215.50,237.40 L215.70,240.19 L215.90,242.98 L216.10,240.46 L216.30,236.33 L216.50,232.21 L216.70,235.40 L216.90,240.89 L217.10,246.39 L217.30,241.19 L217.50,232.43 L217.70,223.67 L217.90,214.91 L218.10,206.15 L218.30,197.39 L218.50,197.20 L218.70,200.15 L218.90,203.11 L219.10,206.07 L219.30,209.03 L219.50,211.98 L219.70,214.94 L219.90,217.90 L220.10,220.86 L220.30,223.82 L220.50,226.77 L220.70,228.72 L220.90,226.48 L221.10,224.25 L221.30,223.21 L221.50,227.40 L221.70,231.58 L221.90,235.77 L222.10,239.96 L222.30,244.15 L222.50,248.33 L222.70,252.52 L222.90,254.74 L223.10,246.72 L223.30,238.70 L223.50,230.68 L223.70,222.66 L223.90,214.63 L224.10,208.10 L224.30,210.55 L224.50,213.00 L224.70,215.45 L224.90,217.90 L225.10,217.34 L225.30,214.99 L225.50,212.65 L225.70,210.30 L225.90,207.95 L226.10,205.61 L226.30,203.84 L226.50,206.92 L226.70,210.00 L226.90,213.08 L227.10,216.16 L227.30,219.23 L227.50,222.31 L227.70,225.39 L227.90,228.47 L228.10,231.55 L228.30,234.63 L228.50,237.70 L228.70,240.78 L228.90,243.86 L229.10,246.94 L229.30,249.26 L229.50,239.77 L229.70,230.29 L229.90,227.38 L230.10,229.78 L230.30,232.19 L230.50,229.75 L230.70,223.24 L230.90,216.73 L231.10,210.22 L231.30,203.71 L231.50,197.20 L231.70,196.40 L231.90,200.77 L232.10,205.14 L232.30,209.51 L232.50,213.88 L232.70,218.25 L232.90,222.62 L233.10,226.99 L233.30,231.36 L233.50,235.73 L233.70,236.50 L233.90,233.58 L234.10,230.66 L234.30,231.55 L234.50,236.49 L234.70,241.44 L234.90,238.36 L235.10,235.08 L235.30,231.79 L235.50,228.51 L235.70,225.23 L235.90,221.95 L236.10,218.67 L236.30,215.39 L236.50,212.10 L236.70,208.82 L236.90,205.54 L237.10,202.26 L237.30,201.18 L237.50,202.96 L237.70,204.73 L237.90,206.51 L238.10,208.28 L238.30,210.06 L238.50,211.83 L238.70,213.61 L238.90,215.38 L239.10,217.16 L239.30,218.93 L239.50,220.70 L239.70,218.41 L239.90,215.66 L240.10,212.91 L240.30,217.20 L240.50,222.36 L240.70,227.51 L240.90,232.66 L241.10,237.82 L241.30,242.97 L241.50,248.12 L241.70,253.28 L241.90,249.50 L242.10,244.35 L242.30,239.20 L242.50,234.04 L242.70,228.89 L242.90,223.74 L243.10,218.58 L243.30,219.52 L243.50,221.58 L243.70,223.64 L243.90,220.30 L244.10,215.88 L244.30,211.47 L244.50,207.05 L244.70,202.64 L244.90,198.22 L245.10,199.69 L245.30,202.48 L245.50,205.27 L245.70,208.07 L245.90,210.86 L246.10,213.65 L246.30,216.44 L246.50,219.24 L246.70,222.03 L246.90,224.82 L247.10,227.61 L247.30,230.40 L247.50,233.20 L247.70,235.99 L247.90,238.78 L248.10,241.57 L248.30,242.54 L248.50,238.42 L248.70,234.29 L248.90,232.62 L249.10,238.12 L249.30,243.61 L249.50,245.61 L249.70,236.85 L249.90,228.09 L250.10,219.33 L250.30,210.57 L250.50,201.81 L250.70,195.70 L250.90,198.66 L251.10,201.62 L251.30,204.58 L251.50,207.53 L251.70,210.49 L251.90,213.45 L252.10,216.41 L252.30,219.36 L252.50,222.32 L252.70,225.28 L252.90,228.24 L253.10,227.61 L253.30,225.38 L253.50,223.14 L253.70,225.28 L253.90,229.47 L254.10,233.66 L254.30,237.85 L254.50,242.03 L254.70,246.22 L254.90,250.41 L255.10,254.59 L255.30,250.77 L255.50,242.75 L255.70,234.73 L255.90,226.71 L256.10,218.68 L256.30,210.66 L256.50,209.31 L256.70,211.76 L256.90,214.21 L257.10,216.66 L257.30,218.52 L257.50,216.18 L257.70,213.83 L257.90,211.48 L258.10,209.14 L258.30,206.79 L258.50,204.44 L258.70,205.37 L258.90,208.45 L259.10,211.52 L259.30,214.60 L259.50,217.68 L259.70,220.76 L259.90,223.84 L260.10,226.91 L260.30,229.99 L260.50,233.07 L260.70,236.15 L260.90,239.23 L261.10,242.31 L261.30,245.38 L261.50,248.46 L261.70,244.56 L261.90,235.08 L262.10,226.17 L262.30,228.57 L262.50,230.98 L262.70,233.04 L262.90,226.53 L263.10,220.02 L263.30,213.51 L263.50,207.00 L263.70,200.49 L263.90,194.19 L264.10,198.56 L264.30,202.93 L264.50,207.30 L264.70,211.67 L264.90,216.04 L265.10,220.41 L265.30,224.78 L265.50,229.15 L265.70,233.52 L265.90,237.89 L266.10,235.05 L266.30,232.13 L266.50,229.21 L266.70,233.99 L266.90,238.94 L267.10,240.01 L267.30,236.73 L267.50,233.45" stroke="#3a82cc" stroke-width="0.95" filter="url(#soft)"/>
<path d="M334.70,205.60 L334.90,207.37 L335.10,209.14 L335.30,210.92 L335.50,212.69 L335.70,214.47 L335.90,216.24 L336.10,218.02 L336.30,219.79 L336.50,219.82 L336.70,217.07 L336.90,214.32 L337.10,214.55 L337.30,219.70 L337.50,224.86 L337.70,230.01 L337.90,235.16 L338.10,240.32 L338.30,245.47 L338.50,250.62 L338.70,252.16 L338.90,247.00 L339.10,241.85 L339.30,236.70 L339.50,231.54 L339.70,226.39 L339.90,221.24 L340.10,218.46 L340.30,220.52 L340.50,222.58 L340.70,222.57 L340.90,218.16 L341.10,213.74 L341.30,209.33 L341.50,204.91 L341.70,200.50 L341.90,198.25 L342.10,201.05 L342.30,203.84 L342.50,206.63 L342.70,209.42 L342.90,212.21 L343.10,215.01 L343.30,217.80 L343.50,220.59 L343.70,223.38 L343.90,226.17 L344.10,228.97 L344.30,231.76 L344.50,234.55 L344.70,237.34 L344.90,240.14 L345.10,242.93 L345.30,240.54 L345.50,236.41 L345.70,232.29 L345.90,235.29 L346.10,240.79 L346.30,246.28 L346.50,241.36 L346.70,232.60 L346.90,223.84 L347.10,215.08 L347.30,206.32 L347.50,197.56 L347.70,197.14 L347.90,200.10 L348.10,203.05 L348.30,206.01 L348.50,208.97 L348.70,211.93 L348.90,214.88 L349.10,217.84 L349.30,220.80 L349.50,223.76 L349.70,226.71 L349.90,228.76 L350.10,226.53 L350.30,224.29 L350.50,223.13 L350.70,227.32 L350.90,231.50 L351.10,235.69 L351.30,239.88 L351.50,244.06 L351.70,248.25 L351.90,252.44 L352.10,254.90 L352.30,246.88 L352.50,238.86 L352.70,230.83 L352.90,222.81 L353.10,214.79 L353.30,208.05 L353.50,210.50 L353.70,212.95 L353.90,215.40 L354.10,217.85 L354.30,217.39 L354.50,215.04 L354.70,212.69 L354.90,210.35 L355.10,208.00 L355.30,205.65 L355.50,203.78 L355.70,206.86 L355.90,209.94 L356.10,213.02 L356.30,216.10 L356.50,219.17 L356.70,222.25 L356.90,225.33 L357.10,228.41 L357.30,231.49 L357.50,234.57 L357.70,237.64 L357.90,240.72 L358.10,243.80 L358.30,246.88 L358.50,249.44 L358.70,239.96 L358.90,230.48 L359.10,227.33 L359.30,229.74 L359.50,232.14 L359.70,229.88 L359.90,223.37 L360.10,216.86 L360.30,210.35 L360.50,203.84 L360.70,197.33 L360.90,196.31 L361.10,200.68 L361.30,205.05 L361.50,209.42 L361.70,213.79 L361.90,218.16 L362.10,222.53 L362.30,226.90 L362.50,231.27 L362.70,235.64 L362.90,236.56 L363.10,233.64 L363.30,230.72 L363.50,231.45 L363.70,236.40 L363.90,241.34 L364.10,238.42 L364.30,235.14 L364.50,231.86 L364.70,228.58 L364.90,225.29 L365.10,222.01 L365.30,218.73 L365.50,215.45 L365.70,212.17 L365.90,208.89 L366.10,205.60 L366.30,202.32 L366.50,201.15 L366.70,202.92 L366.90,204.70 L367.10,206.47 L367.30,208.25 L367.50,210.02 L367.70,211.80 L367.90,213.57 L368.10,215.35 L368.30,217.12 L368.50,218.90 L368.70,220.67 L368.90,218.46 L369.10,215.71 L369.30,212.96 L369.50,217.10 L369.70,222.26 L369.90,227.41 L370.10,232.56 L370.30,237.72 L370.50,242.87 L370.70,248.02 L370.90,253.18 L371.10,249.60 L371.30,244.45 L371.50,239.30 L371.70,234.14 L371.90,228.99 L372.10,223.84 L372.30,218.68 L372.50,219.48 L372.70,221.54 L372.90,223.60 L373.10,220.38 L373.30,215.97 L373.50,211.55 L373.70,207.14 L373.90,202.73 L374.10,198.31 L374.30,199.64 L374.50,202.43 L374.70,205.22 L374.90,208.01 L375.10,210.80 L375.30,213.60 L375.50,216.39 L375.70,219.18 L375.90,221.97 L376.10,224.76 L376.30,227.56 L376.50,230.35 L376.70,233.14 L376.90,235.93 L377.10,238.73 L377.30,241.52 L377.50,242.62 L377.70,238.50 L377.90,234.37 L378.10,232.51 L378.30,238.01 L378.50,243.51 L378.70,245.78 L378.90,237.02 L379.10,228.26 L379.30,219.50 L379.50,210.74 L379.70,201.98 L379.90,195.65 L380.10,198.60 L380.30,201.56 L380.50,204.52 L380.70,207.48 L380.90,210.43 L381.10,213.39 L381.30,216.35 L381.50,219.31 L381.70,222.26 L381.90,225.22 L382.10,228.18 L382.30,227.65 L382.50,225.42 L382.70,223.19 L382.90,225.20 L383.10,229.39 L383.30,233.58 L383.50,237.76 L383.70,241.95 L383.90,246.14 L384.10,250.32 L384.30,254.51 L384.50,250.93 L384.70,242.91 L384.90,234.88 L385.10,226.86 L385.30,218.84 L385.50,210.82 L385.70,209.26 L385.90,211.72 L386.10,214.17 L386.30,216.62 L386.50,218.57 L386.70,216.22 L386.90,213.88 L387.10,211.53 L387.30,209.18 L387.50,206.84 L387.70,204.49 L387.90,205.31 L388.10,208.39 L388.30,211.46 L388.50,214.54 L388.70,217.62 L388.90,220.70 L389.10,223.78 L389.30,226.85 L389.50,229.93 L389.70,233.01 L389.90,236.09 L390.10,239.17 L390.30,242.25 L390.50,245.32 L390.70,248.40 L390.90,244.75 L391.10,235.27 L391.30,226.12 L391.50,228.52 L391.70,230.93 L391.90,233.17 L392.10,226.66 L392.30,220.14 L392.50,213.63 L392.70,207.12 L392.90,200.61 L393.10,194.10 L393.30,198.47 L393.50,202.84 L393.70,207.21 L393.90,211.58 L394.10,215.95 L394.30,220.32 L394.50,224.69 L394.70,229.06 L394.90,233.43 L395.10,237.80 L395.30,235.11 L395.50,232.19 L395.70,229.27 L398.20,244.32" stroke="#3a82cc" stroke-width="0.95" filter="url(#soft)"/>
<path d="M268.20,228.60 L268.75,241.84 L269.30,227.95 L269.85,241.98 L270.40,226.77 L270.95,239.62 L271.50,229.24 L272.05,242.76 L272.60,228.10 L273.15,240.12 L273.70,224.90 L274.25,241.00 L274.80,225.45 L275.35,240.91 L275.90,226.17 L276.45,239.43 L277.00,226.08 L277.55,242.33 L278.10,226.43 L278.65,241.68 L279.20,225.69 L279.75,238.72 L280.30,225.21 L280.85,240.81 L281.40,227.00 L281.95,238.34 L282.50,224.51 L283.05,240.07 L283.60,225.00 L284.15,241.65 L284.70,224.89 L285.25,241.70 L285.80,226.11 L286.35,241.06 L286.90,225.77 L287.45,241.50 L288.00,223.81 L288.55,237.84 L289.10,226.80 L289.65,238.21 L290.20,223.18 L290.75,238.99 L291.30,224.46 L291.85,238.29 L292.40,224.82 L292.95,238.50 L293.50,225.34 L294.05,239.20 L294.60,224.21 L295.15,240.39 L295.70,223.66 L296.25,240.35 L296.80,222.78 L297.35,240.46 L297.90,223.40 L298.45,236.83 L299.00,222.46 L299.55,240.05 L300.10,222.12 L300.65,238.23 L301.20,222.77 L301.75,236.57 L302.30,222.11 L302.85,237.94 L303.40,224.25 L303.95,235.63 L304.50,221.70 L305.05,239.36 L305.60,224.75 L306.15,238.41 L306.70,223.24 L307.25,235.51 L307.80,223.56 L308.35,237.94 L308.90,220.96 L309.45,234.73 L310.00,221.87 L310.55,234.56 L311.10,221.27 L311.65,235.59 L312.20,220.41 L312.75,238.14 L313.30,221.81 L313.85,238.04 L314.40,222.46 L314.95,233.99 L315.50,221.06 L316.05,233.62 L316.60,222.57 L317.15,235.02 L317.70,220.65 L318.25,233.78 L318.80,222.85 L319.35,236.58 L319.90,221.52 L320.45,236.77 L321.00,218.89 L321.55,234.14 L322.10,220.53 L322.65,234.55 L323.20,219.56 L323.75,234.67 L324.30,219.72 L324.85,234.58 L325.40,217.93 L325.95,233.91 L326.50,219.87 L327.05,234.60 L327.60,220.48 L328.15,232.64 L328.70,217.17 L329.25,233.36 L329.80,218.77 L330.35,231.02 L330.90,219.12 L331.45,233.20 L332.00,220.58 L332.55,233.14 L333.10,217.79 L333.65,230.60 L334.20,217.60" stroke="#74467c" stroke-width="0.62" stroke-opacity="0.9" filter="url(#soft)"/>
<rect x="138.3" y="274.5" width="6.9" height="62.3" fill="#fca2a8"/>
<path d="M79.20,301.05 L79.40,302.29 L79.60,303.53 L79.80,304.77 L80.00,306.02 L80.20,307.26 L80.40,308.50 L80.60,309.74 L80.80,310.99 L81.00,310.81 L81.20,308.89 L81.40,306.96 L81.60,307.50 L81.80,311.11 L82.00,314.72 L82.20,318.33 L82.40,321.93 L82.60,325.54 L82.80,329.15 L83.00,332.76 L83.20,333.19 L83.40,329.58 L83.60,325.97 L83.80,322.37 L84.00,318.76 L84.20,315.15 L84.40,311.54 L84.60,310.14 L84.80,311.58 L85.00,313.02 L85.20,312.50 L85.40,309.41 L85.60,306.32 L85.80,303.23 L86.00,300.13 L86.20,297.04 L86.40,296.12 L86.60,298.08 L86.80,300.03 L87.00,301.99 L87.20,303.94 L87.40,305.90 L87.60,307.85 L87.80,309.81 L88.00,311.76 L88.20,313.72 L88.40,315.67 L88.60,317.63 L88.80,319.58 L89.00,321.54 L89.20,323.49 L89.40,325.45 L89.60,327.40 L89.80,324.90 L90.00,322.01 L90.20,319.13 L90.40,322.43 L90.60,326.28 L90.80,330.13 L91.00,324.82 L91.20,318.69 L91.40,312.56 L91.60,306.42 L91.80,300.29 L92.00,294.15 L92.20,295.51 L92.40,297.58 L92.60,299.65 L92.80,301.72 L93.00,303.80 L93.20,305.87 L93.40,307.94 L93.60,310.01 L93.80,312.08 L94.00,314.15 L94.20,316.22 L94.40,316.81 L94.60,315.25 L94.80,313.69 L95.00,313.94 L95.20,316.87 L95.40,319.80 L95.60,322.74 L95.80,325.67 L96.00,328.60 L96.20,331.53 L96.40,334.46 L96.60,333.98 L96.80,328.36 L97.00,322.74 L97.20,317.13 L97.40,311.51 L97.60,305.90 L97.80,303.18 L98.00,304.90 L98.20,306.61 L98.40,308.33 L98.60,310.05 L98.80,308.76 L99.00,307.12 L99.20,305.48 L99.40,303.83 L99.60,302.19 L99.80,300.55 L100.00,300.38 L100.20,302.54 L100.40,304.69 L100.60,306.85 L100.80,309.00 L101.00,311.16 L101.20,313.31 L101.40,315.47 L101.60,317.62 L101.80,319.78 L102.00,321.93 L102.20,324.09 L102.40,326.24 L102.60,328.40 L102.80,330.55 L103.00,329.36 L103.20,322.73 L103.40,316.09 L103.60,316.76 L103.80,318.45 L104.00,320.13 L104.20,316.34 L104.40,311.78 L104.60,307.22 L104.80,302.67 L105.00,298.11 L105.20,293.55 L105.40,295.64 L105.60,298.70 L105.80,301.76 L106.00,304.82 L106.20,307.88 L106.40,310.94 L106.60,314.00 L106.80,317.06 L107.00,320.12 L107.20,323.18 L107.40,321.81 L107.60,319.77 L107.80,317.72 L108.00,320.45 L108.20,323.91 L108.40,325.28 L108.60,322.98 L108.80,320.68 L109.00,318.38 L109.20,316.09 L109.40,313.79 L109.60,311.49 L109.80,309.19 L110.00,306.90 L110.20,304.60 L110.40,302.30 L110.60,300.00 L110.80,297.71 L111.00,298.44 L111.20,299.68 L111.40,300.93 L111.60,302.17 L111.80,303.41 L112.00,304.65 L112.20,305.90 L112.40,307.14 L112.60,308.38 L112.80,309.62 L113.00,310.86 L113.20,311.00 L113.40,309.08 L113.60,307.15 L113.80,307.15 L114.00,310.76 L114.20,314.37 L114.40,317.98 L114.60,321.58 L114.80,325.19 L115.00,328.80 L115.20,332.41 L115.40,333.54 L115.60,329.93 L115.80,326.32 L116.00,322.72 L116.20,319.11 L116.40,315.50 L116.60,311.89 L116.80,310.00 L117.00,311.44 L117.20,312.88 L117.40,312.80 L117.60,309.71 L117.80,306.62 L118.00,303.53 L118.20,300.43 L118.40,297.34 L118.60,295.93 L118.80,297.89 L119.00,299.84 L119.20,301.80 L119.40,303.75 L119.60,305.71 L119.80,307.66 L120.00,309.62 L120.20,311.57 L120.40,313.53 L120.60,315.48 L120.80,317.44 L121.00,319.39 L121.20,321.35 L121.40,323.30 L121.60,325.26 L121.80,327.21 L122.00,325.18 L122.20,322.29 L122.40,319.41 L122.60,322.06 L122.80,325.90 L123.00,329.75 L123.20,325.42 L123.40,319.28 L123.60,313.15 L123.80,307.02 L124.00,300.88 L124.20,294.75 L124.40,295.31 L124.60,297.38 L124.80,299.45 L125.00,301.52 L125.20,303.59 L125.40,305.67 L125.60,307.74 L125.80,309.81 L126.00,311.88 L126.20,313.95 L126.40,316.02 L126.60,316.97 L126.80,315.40 L127.00,313.84 L127.20,313.66 L127.40,316.59 L127.60,319.52 L127.80,322.45 L128.00,325.38 L128.20,328.31 L128.40,331.25 L128.60,334.18 L128.80,334.52 L129.00,328.91 L129.20,323.29 L129.40,317.67 L129.60,312.06 L129.80,306.44 L130.00,303.02 L130.20,304.73 L130.40,306.45 L130.60,308.16 L130.80,309.88 L131.00,308.92 L131.20,307.28 L131.40,305.63 L131.60,303.99 L131.80,302.35 L132.00,300.71 L132.20,300.17 L132.40,302.33 L132.60,304.48 L132.80,306.64 L133.00,308.79 L133.20,310.95 L133.40,313.10 L133.60,315.26 L133.80,317.41 L134.00,319.57 L134.20,321.72 L134.40,323.88 L134.60,326.03 L134.80,328.19 L135.00,330.35 L135.20,330.01 L135.40,323.37 L135.60,316.73 L135.80,316.60 L136.00,318.28 L136.20,319.97 L136.40,316.78 L136.60,312.22 L136.80,307.67 L137.00,303.11 L137.20,298.55 L137.40,293.99 L137.60,295.35 L137.80,298.41 L138.00,301.47 L138.20,304.53 L138.40,307.59 L138.60,310.65 L138.80,313.70 L139.00,316.76 L139.20,319.82 L139.40,322.88 L139.60,322.01 L139.80,319.97 L140.00,317.92 L140.20,320.11 L140.40,323.57 L140.60,325.50" stroke="#3a82cc" stroke-width="0.95" filter="url(#soft)"/>
<path d="M144.40,288.27 L144.60,289.52 L144.80,290.76 L145.00,292.00 L145.20,293.24 L145.40,293.69 L145.60,291.76 L145.80,289.84 L146.00,289.30 L146.20,292.91 L146.40,296.52 L146.60,300.13 L146.80,303.73 L147.00,307.34 L147.20,310.95 L147.40,314.56 L147.60,316.39 L147.80,312.78 L148.00,309.17 L148.20,305.57 L148.40,301.96 L148.60,298.35 L148.80,294.74 L149.00,292.36 L149.20,293.80 L149.40,295.24 L149.60,295.60 L149.80,292.51 L150.00,289.42 L150.20,286.32 L150.40,283.23 L150.60,280.14 L150.80,278.24 L151.00,280.20 L151.20,282.15 L151.40,284.11 L151.60,286.06 L151.80,288.02 L152.00,289.97 L152.20,291.93 L152.40,293.88 L152.60,295.84 L152.80,297.79 L153.00,299.75 L153.20,301.70 L153.40,303.66 L153.60,305.61 L153.80,307.57 L154.00,309.52 L154.20,307.96 L154.40,305.07 L154.60,302.19 L154.80,304.18 L155.00,308.03 L155.20,311.88 L155.40,308.51 L155.60,302.38 L155.80,296.25 L156.00,290.11 L156.20,283.98 L156.40,277.85 L156.60,277.61 L156.80,279.68 L157.00,281.75 L157.20,283.82 L157.40,285.89 L157.60,287.96 L157.80,290.04 L158.00,292.11 L158.20,294.18 L158.40,296.25 L158.60,298.32 L158.80,299.62 L159.00,298.05 L159.20,296.49 L159.40,295.87 L159.60,298.80 L159.80,301.74 L160.00,304.67 L160.20,307.60 L160.40,310.53 L160.60,313.46 L160.80,316.39 L161.00,317.57 L161.20,311.95 L161.40,306.33 L161.60,300.72 L161.80,295.10 L162.00,289.49 L162.20,285.35 L162.40,287.07 L162.60,288.78 L162.80,290.50 L163.00,292.21 L163.20,291.58 L163.40,289.94 L163.60,288.29 L163.80,286.65 L164.00,285.01 L164.20,283.36 L164.40,282.46 L164.60,284.62 L164.80,286.77 L165.00,288.93 L165.20,291.08 L165.40,293.24 L165.60,295.39 L165.80,297.55 L166.00,299.70 L166.20,301.86 L166.40,304.02 L166.60,306.17 L166.80,308.33 L167.00,310.48 L167.20,312.64 L167.40,313.15 L167.60,306.51 L167.80,299.88 L168.00,298.94 L168.20,300.62 L168.40,302.30 L168.60,299.72 L168.80,295.17 L169.00,290.61 L169.20,286.05 L169.40,281.49 L169.60,276.93 L169.80,277.55 L170.00,280.61 L170.20,283.67 L170.40,286.73 L170.60,289.79 L170.80,292.85 L171.00,295.91 L171.20,298.97 L171.40,302.03 L171.60,305.09 L171.80,304.71 L172.00,302.67 L172.20,300.62 L172.40,302.27 L172.60,305.74 L172.80,308.22 L173.00,305.93 L173.20,303.63 L173.40,301.33 L173.60,299.03 L173.80,296.74 L174.00,294.44 L174.20,292.14 L174.40,289.84 L174.60,287.54 L174.80,285.25 L175.00,282.95 L175.20,280.65 L175.40,280.70 L175.60,281.94 L175.80,283.18 L176.00,284.43 L176.20,285.67 L176.40,286.91 L176.60,288.15 L176.80,289.40 L177.00,290.64 L177.20,291.88 L177.40,293.12 L177.60,293.87 L177.80,291.95 L178.00,290.03 L178.20,288.95 L178.40,292.56 L178.60,296.17 L178.80,299.78 L179.00,303.38 L179.20,306.99 L179.40,310.60 L179.60,314.21 L179.80,316.74 L180.00,313.13 L180.20,309.52 L180.40,305.92 L180.60,302.31 L180.80,298.70 L181.00,295.09 L181.20,292.22 L181.40,293.66 L181.60,295.10 L181.80,295.90 L182.00,292.81 L182.20,289.72 L182.40,286.62 L182.60,283.53 L182.80,280.44 L183.00,278.05 L183.20,280.01 L183.40,281.96 L183.60,283.92 L183.80,285.87 L184.00,287.83 L184.20,289.78 L184.40,291.74 L184.60,293.69 L184.80,295.65 L185.00,297.60 L185.20,299.56 L185.40,301.51 L185.60,303.47 L185.80,305.42 L186.00,307.38 L186.20,309.33 L186.40,308.24 L186.60,305.35 L186.80,302.47 L187.00,303.81 L187.20,307.66 L187.40,311.51 L187.60,309.11 L187.80,302.97 L188.00,296.84 L188.20,290.71 L188.40,284.57 L188.60,278.44 L188.80,277.41 L189.00,279.48 L189.20,281.55 L189.40,283.62 L189.60,285.69 L189.80,287.76 L190.00,289.83 L190.20,291.90 L190.40,293.98 L190.60,296.05 L190.80,298.12 L191.00,299.77 L191.20,298.21 L191.40,296.64 L191.60,295.59 L191.80,298.52 L192.00,301.45 L192.20,304.38 L192.40,307.31 L192.60,310.25 L192.80,313.18 L193.00,316.11 L193.20,318.11 L193.40,312.50 L193.60,306.88 L193.80,301.26 L194.00,295.65 L194.20,290.03 L194.40,285.18 L194.60,286.90 L194.80,288.61 L195.00,290.33 L195.20,292.05 L195.40,291.74 L195.60,290.10 L195.80,288.45 L196.00,286.81 L196.20,285.17 L196.40,283.52 L196.60,282.25 L196.80,284.41 L197.00,286.56 L197.20,288.72 L197.40,290.88 L197.60,293.03 L197.80,295.19 L198.00,297.34 L198.20,299.50 L198.40,301.65 L198.60,303.81 L198.80,305.96 L199.00,308.12 L199.20,310.27 L199.40,312.43 L199.60,313.80 L199.80,307.16 L200.00,300.52 L200.20,298.77 L200.40,300.46 L200.60,302.14 L200.80,300.17 L201.00,295.61 L201.20,291.05 L201.40,286.49 L201.60,281.93 L201.80,277.38 L202.00,277.25 L202.20,280.31 L202.40,283.37 L202.60,286.43 L202.80,289.49 L203.00,292.55 L203.20,295.61 L203.40,298.67 L203.60,301.73 L203.80,304.79 L204.00,304.91 L204.20,302.86 L204.40,300.82 L204.60,301.94 L204.80,305.40 L205.00,308.45 L205.20,306.15 L205.40,303.85 L205.60,301.55 L205.80,299.26 L206.00,296.96 L206.20,294.66 L206.40,292.36 L206.60,290.07 L206.80,287.77 L207.00,285.47 L207.20,283.17 L207.40,280.88 L207.60,280.58 L207.80,281.82 L208.00,283.06 L208.20,284.31 L208.40,285.55 L208.60,286.79 L208.80,288.03 L209.00,289.28 L209.20,290.52 L209.40,291.76 L209.60,293.00 L209.80,294.06 L210.00,292.14 L210.20,290.21 L210.40,288.60 L210.60,292.21 L210.80,295.82 L211.00,299.42 L211.20,303.03 L211.40,306.64 L211.60,310.25 L211.80,313.86 L212.00,317.09 L212.20,313.48 L212.40,309.87 L212.60,306.27 L212.80,302.66 L213.00,299.05 L213.20,295.44 L213.40,292.08 L213.60,293.52 L213.80,294.96 L214.00,296.20 L214.20,293.11 L214.40,290.02 L214.60,286.92 L214.80,283.83 L215.00,280.74 L215.20,277.87 L215.40,279.82 L215.60,281.77 L215.80,283.73 L216.00,285.68 L216.20,287.64 L216.40,289.59 L216.60,291.55 L216.80,293.50 L217.00,295.46 L217.20,297.41 L217.40,299.37 L217.60,301.32 L217.80,303.28 L218.00,305.23 L218.20,307.19 L218.40,309.14 L218.60,308.52 L218.80,305.63 L219.00,302.75 L219.20,303.43 L219.40,307.28 L219.60,311.13 L219.80,309.70 L220.00,303.57 L220.20,297.44 L220.40,291.30 L220.60,285.17 L220.80,279.04 L221.00,277.21 L221.20,279.28 L221.40,281.35 L221.60,283.42 L221.80,285.49 L222.00,287.56 L222.20,289.63 L222.40,291.70 L222.60,293.77 L222.80,295.85 L223.00,297.92 L223.20,299.92 L223.40,298.36 L223.60,296.79 L223.80,295.30 L224.00,298.24 L224.20,301.17 L224.40,304.10 L224.60,307.03 L224.80,309.96 L225.00,312.89 L225.20,315.82 L225.40,318.66 L225.60,313.04 L225.80,307.42 L226.00,301.81 L226.20,296.19 L226.40,290.58 L226.60,285.02 L226.80,286.73 L227.00,288.45 L227.20,290.16 L227.40,291.88 L227.60,291.90 L227.80,290.26 L228.00,288.61 L228.20,286.97 L228.40,285.33 L228.60,283.68 L228.80,282.05 L229.00,284.20 L229.20,286.36 L229.40,288.51 L229.60,290.67 L229.80,292.82 L230.00,294.98 L230.20,297.13 L230.40,299.29 L230.60,301.44 L230.80,303.60 L231.00,305.75 L231.20,307.91 L231.40,310.06 L231.60,312.22 L231.80,314.37 L232.00,307.80 L232.20,301.16 L232.40,298.61 L232.60,300.29 L232.80,301.98 L233.00,300.61 L233.20,296.05 L233.40,291.49 L233.60,286.93 L233.80,282.38 L234.00,277.82 L234.20,276.96 L234.40,280.02 L234.60,283.08 L234.80,286.14 L235.00,289.20 L235.20,292.25 L235.40,295.31 L235.60,298.37 L235.80,301.43 L236.00,304.49 L236.20,305.11 L236.40,303.06 L236.60,301.02 L236.80,301.60 L237.00,305.07 L237.20,308.53 L237.40,306.37 L237.60,304.07 L237.80,301.78 L238.00,299.48 L238.20,297.18 L238.40,294.88 L238.60,292.59 L238.80,290.29 L239.00,287.99 L239.20,285.69 L239.40,283.40 L239.60,281.10 L239.80,280.46 L240.00,281.70 L240.20,282.94 L240.40,284.19 L240.60,285.43 L240.80,286.67 L241.00,287.91 L241.20,289.16 L241.40,290.40 L241.60,291.64 L241.80,292.88 L242.00,294.12 L242.20,292.32 L242.40,290.40 L242.60,288.47 L242.80,291.86 L243.00,295.47 L243.20,299.07 L243.40,302.68 L243.60,306.29 L243.80,309.90 L244.00,313.51 L244.20,317.11 L244.40,313.83 L244.60,310.23 L244.80,306.62 L245.00,303.01 L245.20,299.40 L245.40,295.79 L245.60,292.19 L245.80,293.38 L246.00,294.82 L246.20,296.27 L246.40,293.41 L246.60,290.32 L246.80,287.22 L247.00,284.13 L247.20,281.04 L247.40,277.95 L247.60,279.63 L247.80,281.59 L248.00,283.54 L248.20,285.49 L248.40,287.45 L248.60,289.40 L248.80,291.36 L249.00,293.31 L249.20,295.27 L249.40,297.22 L249.60,299.18 L249.80,301.13 L250.00,303.09 L250.20,305.04 L250.40,307.00 L250.60,308.95 L250.80,308.80 L251.00,305.92 L251.20,303.03 L251.40,303.06 L251.60,306.91 L251.80,310.76 L252.00,310.30 L252.20,304.17 L252.40,298.03 L252.60,291.90 L252.80,285.76 L253.00,279.63 L253.20,277.01 L253.40,279.08 L253.60,281.15 L253.80,283.22 L254.00,285.29 L254.20,287.36 L254.40,289.43 L254.60,291.50 L254.80,293.57 L255.00,295.64 L255.20,297.71 L255.40,299.79 L255.60,298.51 L255.80,296.95 L256.00,295.38 L256.20,297.95 L256.40,300.88 L256.60,303.81 L256.80,306.75 L257.00,309.68 L257.20,312.61 L257.40,315.54 L257.60,318.47 L257.80,313.59 L258.00,307.97 L258.20,302.35 L258.40,296.74 L258.60,291.12 L258.80,285.50 L259.00,286.57 L259.20,288.28 L259.40,290.00 L259.60,291.71 L259.80,292.06 L260.00,290.42 L260.20,288.77 L260.40,287.13 L260.60,285.49 L260.80,283.84 L261.00,282.20 L261.20,283.99 L261.40,286.15 L261.60,288.30 L261.80,290.46 L262.00,292.61 L262.20,294.77 L262.40,296.92 L262.60,299.08 L262.80,301.23 L263.00,303.39 L263.20,305.54 L263.40,307.70 L263.60,309.85 L263.80,312.01 L264.00,314.16 L264.20,308.45 L264.40,301.81 L264.60,298.45 L264.80,300.13 L265.00,301.81 L265.20,301.05 L265.40,296.49 L265.60,291.94 L265.80,287.38 L266.00,282.82 L266.20,278.26 L266.40,276.66 L266.60,279.72 L266.80,282.78 L267.00,285.84 L267.20,288.90 L267.40,291.96 L267.60,295.02 L267.80,298.08 L268.00,301.14 L268.20,304.20 L268.40,305.31 L268.60,303.26 L268.80,301.22 L269.00,301.27 L269.20,304.73 L269.40,308.19 L269.60,306.59 L269.80,304.30 L270.00,302.00 L270.20,299.70 L270.40,297.40 L270.60,295.11 L270.80,292.81 L271.00,290.51 L271.20,288.21 L271.40,285.92 L271.60,283.62 L271.80,281.32 L272.00,280.34 L272.20,281.58 L272.40,282.82 L272.60,284.07 L272.80,285.31 L273.00,286.55 L273.20,287.79 L273.40,289.03 L273.60,290.28 L273.80,291.52 L274.00,292.76 L274.20,294.00 L274.40,292.51 L274.60,290.59 L274.80,288.66 L275.00,291.51 L275.20,295.12 L275.40,298.72 L275.60,302.33 L275.80,305.94 L276.00,309.55 L276.20,313.16 L276.40,316.76 L276.60,314.18 L276.80,310.58 L277.00,306.97 L277.20,303.36 L277.40,299.75 L277.60,296.14 L277.80,292.54 L278.00,293.24 L278.20,294.68 L278.40,296.12 L278.60,293.71 L278.80,290.62 L279.00,287.52 L279.20,284.43 L279.40,281.34 L279.60,278.25 L279.80,279.44 L280.00,281.40 L280.20,283.35 L280.40,285.31 L280.60,287.26 L280.80,289.22 L281.00,291.17 L281.20,293.12 L281.40,295.08 L281.60,297.03 L281.80,298.99 L282.00,300.94 L282.20,302.90 L282.40,304.85 L282.60,306.81 L282.80,308.76 L283.00,309.08 L283.20,306.20 L283.40,303.31 L283.60,302.69 L283.80,306.54 L284.00,310.38 L284.20,310.89 L284.40,304.76 L284.60,298.63 L284.80,292.49 L285.00,286.36 L285.20,280.23 L285.40,276.81 L285.60,278.88 L285.80,280.95 L286.00,283.02 L286.20,285.09 L286.40,287.16 L286.60,289.23 L286.80,291.30 L287.00,293.37 L287.20,295.44 L287.40,297.51 L287.60,299.58 L287.80,298.66 L288.00,297.10 L288.20,295.53 L288.40,297.67 L288.60,300.60 L288.80,303.53 L289.00,306.46 L289.20,309.39 L289.40,312.32 L289.60,315.26 L289.80,318.19 L290.00,314.13 L290.20,308.51 L290.40,302.90 L290.60,297.28 L290.80,291.67 L291.00,286.05 L291.20,286.40 L291.40,288.12 L291.60,289.83 L291.80,291.55 L292.00,292.22 L292.20,290.57 L292.40,288.93 L292.60,287.29 L292.80,285.65 L293.00,284.00 L293.20,282.36 L293.40,283.78 L293.60,285.94 L293.80,288.09 L294.00,290.25 L294.20,292.40 L294.40,294.56 L294.60,296.71 L294.80,298.87 L295.00,301.02 L295.20,303.18 L295.40,305.33 L295.60,307.49 L295.80,309.64 L296.00,311.80 L296.20,313.95 L296.40,309.09 L296.60,302.45 L296.80,298.28 L297.00,299.97 L297.20,301.65 L297.40,301.49 L297.60,296.94 L297.80,292.38 L298.00,287.82 L298.20,283.26 L298.40,278.70 L298.60,276.36 L298.80,279.42 L299.00,282.48 L299.20,285.54 L299.40,288.60 L299.60,291.66 L299.80,294.72 L300.00,297.78 L300.20,300.84 L300.40,303.90 L300.60,305.50 L300.80,303.46 L301.00,301.41 L301.20,300.93 L301.40,304.39 L301.60,307.86 L301.80,306.82 L302.00,304.52 L302.20,302.22 L302.40,299.92 L302.60,297.63 L302.80,295.33 L303.00,293.03 L303.20,290.73 L303.40,288.44 L303.60,286.14 L303.80,283.84 L304.00,281.54 L304.20,280.22 L304.40,281.46 L304.60,282.70 L304.80,283.94 L305.00,285.19 L305.20,286.43 L305.40,287.67 L305.60,288.91 L305.80,290.16 L306.00,291.40 L306.20,292.64 L306.40,293.88 L306.60,292.70 L306.80,290.77 L307.00,288.85 L307.20,291.16 L307.40,294.77 L307.60,298.37 L307.80,301.98 L308.00,305.59 L308.20,309.20 L308.40,312.81 L308.60,316.41 L308.80,314.53 L309.00,310.93 L309.20,307.32 L309.40,303.71 L309.60,300.10 L309.80,296.49 L310.00,292.89 L310.20,293.10 L310.40,294.54 L310.60,295.98 L310.80,294.01 L311.00,290.92 L311.20,287.82 L311.40,284.73 L311.60,281.64 L311.80,278.55 L312.00,279.25 L312.20,281.21 L312.40,283.16 L312.60,285.12 L312.80,287.07 L313.00,289.03 L313.20,290.98 L313.40,292.94 L313.60,294.89 L313.80,296.84 L314.00,298.80 L314.20,300.75 L314.40,302.71 L314.60,304.66 L314.80,306.62 L315.00,308.57 L315.20,309.36 L315.40,306.48 L315.60,303.59 L315.80,302.31 L316.00,306.16 L316.20,310.01 L316.40,311.49 L316.60,305.36 L316.80,299.22 L317.00,293.09 L317.20,286.95 L317.40,280.82 L317.60,276.61 L317.80,278.68 L318.00,280.75 L318.20,282.82 L318.40,284.89 L318.60,286.96 L318.80,289.03 L319.00,291.10 L319.20,293.17 L319.40,295.24 L319.60,297.31 L319.80,299.38 L320.00,298.81 L320.20,297.25 L320.40,295.69 L320.60,297.38 L320.80,300.31 L321.00,303.24 L321.20,306.18 L321.40,309.11 L321.60,312.04 L321.80,314.97 L322.00,317.90 L322.20,314.68 L322.40,309.06 L322.60,303.44 L322.80,297.83 L323.00,292.21 L323.20,286.59 L323.40,286.23 L323.60,287.95 L323.80,289.66 L324.00,291.38 L324.20,292.38 L324.40,290.73 L324.60,289.09 L324.80,287.45 L325.00,285.81 L325.20,284.16 L325.40,282.52 L325.60,283.57 L325.80,285.73 L326.00,287.88 L326.20,290.04 L326.40,292.19 L326.60,294.35 L326.80,296.50 L327.00,298.66 L327.20,300.81 L327.40,302.97 L327.60,305.12 L327.80,307.28 L328.00,309.44 L328.20,311.59 L328.40,313.75 L328.60,309.74 L328.80,303.10 L329.00,298.12 L329.20,299.80 L329.40,301.49 L329.60,301.94 L329.80,297.38 L330.00,292.82 L330.20,288.26 L330.40,283.70 L330.60,279.15 L330.80,276.07 L331.00,279.13 L331.20,282.19 L331.40,285.24 L331.60,288.30 L331.80,291.36 L332.00,294.42 L332.20,297.48 L332.40,300.54 L332.60,303.60 L332.80,305.70 L333.00,303.66 L333.20,301.61 L333.40,300.59 L333.60,304.06 L333.80,307.52 L334.00,307.04 L334.20,304.74 L334.40,302.45 L334.60,300.15 L334.80,297.85 L335.00,295.55 L335.20,293.25 L335.40,290.96 L335.60,288.66 L335.80,286.36 L336.00,284.06 L336.20,281.77 L336.40,280.10 L336.60,281.34 L336.80,282.58 L337.00,283.82 L337.20,285.07 L337.40,286.31 L337.60,287.55 L337.80,288.79 L338.00,290.04 L338.20,291.28 L338.40,292.52 L338.60,293.76 L338.80,292.88 L339.00,290.96 L339.20,289.03 L339.40,290.81 L339.60,294.42 L339.80,298.02 L340.00,301.63 L340.20,305.24 L340.40,308.85 L340.60,312.46 L340.80,316.06 L341.00,314.88 L341.20,311.28 L341.40,307.67 L341.60,304.06 L341.80,300.45 L342.00,296.84 L342.20,293.24 L342.40,292.96 L342.60,294.40 L342.80,295.84 L343.00,294.31 L343.20,291.22 L343.40,288.12 L343.60,285.03 L343.80,281.94 L344.00,278.85 L344.20,279.06 L344.40,281.02 L344.60,282.97 L344.80,284.93 L345.00,286.88 L345.20,288.84 L345.40,290.79 L345.60,292.75 L345.80,294.70 L346.00,296.66 L346.20,298.61 L346.40,300.56 L346.60,302.52 L346.80,304.47 L347.00,306.43 L347.20,308.38 L347.40,309.64 L347.60,306.76 L347.80,303.87 L348.00,301.94 L348.20,305.79 L348.40,309.64 L348.60,312.08 L348.80,305.95 L349.00,299.82 L349.20,293.68 L349.40,287.55 L349.60,281.42 L349.80,276.41 L350.00,278.48 L350.20,280.55 L350.40,282.62 L350.60,284.69 L350.80,286.76 L351.00,288.83 L351.20,290.90 L351.40,292.97 L351.60,295.04 L351.80,297.11 L352.00,299.18 L352.20,298.96 L352.40,297.40 L352.60,295.84 L352.80,297.10 L353.00,300.03 L353.20,302.96 L353.40,305.89 L353.60,308.82 L353.80,311.75 L354.00,314.69 L354.20,317.62 L354.40,315.22 L354.60,309.61 L354.80,303.99 L355.00,298.37 L355.20,292.76 L355.40,287.14 L355.60,286.07 L355.80,287.78 L356.00,289.50 L356.20,291.21 L356.40,292.54 L356.60,290.89 L356.80,289.25 L357.00,287.61 L357.20,285.96 L357.40,284.32 L357.60,282.68 L357.80,283.36 L358.00,285.52 L358.20,287.67 L358.40,289.83 L358.60,291.98 L358.80,294.14 L359.00,296.29 L359.20,298.45 L359.40,300.61 L359.60,302.76 L359.80,304.92 L360.00,307.07 L360.20,309.23 L360.40,311.38 L360.60,313.54 L360.80,310.38 L361.00,303.74 L361.20,297.96 L361.40,299.64 L361.60,301.32 L361.80,302.38 L362.00,297.82 L362.20,293.26 L362.40,288.70 L362.60,284.15 L362.80,279.59 L363.00,275.77 L363.20,278.83 L363.40,281.89 L363.60,284.95 L363.80,288.01 L364.00,291.07 L364.20,294.13 L364.40,297.19 L364.60,300.25 L364.80,303.31 L365.00,305.90 L365.20,303.86 L365.40,301.81 L365.60,300.26 L365.80,303.72 L366.00,307.19 L366.20,307.26 L366.40,304.97 L366.60,302.67 L366.80,300.37 L367.00,298.07 L367.20,295.78 L367.40,293.48 L367.60,291.18 L367.80,288.88 L368.00,286.59 L368.20,284.29 L368.40,281.99 L368.60,279.98 L368.80,281.22 L369.00,282.46 L369.20,283.70 L369.40,284.95 L369.60,286.19 L369.80,287.43 L370.00,288.67 L370.20,289.92 L370.40,291.16 L370.60,292.40 L370.80,293.64 L371.00,293.07 L371.20,291.15 L371.40,289.22 L371.60,290.46 L371.80,294.07 L372.00,297.67 L372.20,301.28 L372.40,304.89 L372.60,308.50 L372.80,312.11 L373.00,315.71 L373.20,315.23 L373.40,311.63 L373.60,308.02 L373.80,304.41 L374.00,300.80 L374.20,297.19 L374.40,293.59 L374.60,292.82 L374.80,294.26 L375.00,295.70 L375.20,294.61 L375.40,291.52 L375.60,288.42 L375.80,285.33 L376.00,282.24 L376.20,279.15 L376.40,278.87 L376.60,280.83 L376.80,282.78 L377.00,284.74 L377.20,286.69 L377.40,288.65 L377.60,290.60 L377.80,292.56 L378.00,294.51 L378.20,296.47 L378.40,298.42 L378.60,300.38 L378.80,302.33 L379.00,304.28 L379.20,306.24 L379.40,308.19 L379.60,309.92 L379.80,307.04 L380.00,304.15 L380.20,301.57 L380.40,305.42 L380.60,309.26 L380.80,312.68 L381.00,306.55 L381.20,300.41 L381.40,294.28 L381.60,288.15 L381.80,282.01 L382.00,276.20 L382.20,278.28 L382.40,280.35 L382.60,282.42 L382.80,284.49 L383.00,286.56 L383.20,288.63 L383.40,290.70 L383.60,292.77 L383.80,294.84 L384.00,296.91 L384.20,298.98 L384.40,299.12 L384.60,297.55 L384.80,295.99 L385.00,296.81 L385.20,299.74 L385.40,302.68 L385.60,305.61 L385.80,308.54 L386.00,311.47 L386.20,314.40 L386.40,317.33 L386.60,315.77 L386.80,310.15 L387.00,304.53 L387.20,298.92 L387.40,293.30 L387.60,287.68 L387.80,285.90 L388.00,287.62 L388.20,289.33 L388.40,291.05 L388.60,292.70 L388.80,291.05 L389.00,289.41 L389.20,287.77 L389.40,286.12 L389.60,284.48 L389.80,282.84 L390.00,283.15 L390.20,285.31 L390.40,287.47 L390.60,289.62 L390.80,291.78 L391.00,293.93 L391.20,296.09 L391.40,298.24 L391.60,300.40 L391.80,302.55 L392.00,304.71 L392.20,306.86 L392.40,309.02 L392.60,311.17 L392.80,313.33 L393.00,311.02 L393.20,304.39 L393.40,297.79 L393.60,299.48 L393.80,301.16 L394.00,302.82 L394.20,298.26 L394.40,293.70 L394.60,289.15 L394.80,284.59 L395.00,280.03 L395.20,275.47 L395.40,278.53 L395.60,281.59 L395.80,284.65 L396.00,287.71 L396.20,290.77 L396.40,293.83 L396.60,296.89 L396.80,299.95 L397.00,303.01 L397.20,306.07 L397.40,304.05 L397.60,302.01 L397.80,299.97 L399.30,311.82" stroke="#3a82cc" stroke-width="0.95" filter="url(#soft)"/>
<path d="M140.6,325.50 L141.6,330 L142.6,279 L144.4,288.27" stroke="#5b4460" stroke-width="1" filter="url(#soft)"/>
</g>
<g fill="none" stroke-linejoin="round" filter="url(#soft2)">
<path d="M497.6,26.0 V90.0" stroke="#b48684" stroke-width="0.80" stroke-dasharray="5.5 0.7" stroke-opacity="1.00" fill="none"/>
<path d="M546.5,26.4 V90.0" stroke="#b48684" stroke-width="0.80" stroke-dasharray="5.5 0.7" stroke-opacity="1.00" fill="none"/>
<path d="M595.5,25.6 V90.0" stroke="#b48684" stroke-width="0.80" stroke-dasharray="5.5 0.7" stroke-opacity="1.00" fill="none"/>
<path d="M641.2,25.4 V90.0" stroke="#b48684" stroke-width="0.80" stroke-dasharray="5.5 0.7" stroke-opacity="1.00" fill="none"/>
<path d="M451.7,90.20 L680.0,90.00" stroke="#5f7388" stroke-width="0.95"/>
<path d="M472.40,89.91 L472.60,89.86 L472.80,89.80 L473.00,89.71 L473.20,89.57 L473.40,89.34 L473.60,88.92 L473.80,88.04 L474.00,85.64 L474.20,75.38 L474.40,26.70 L474.60,75.38 L474.80,85.64 L475.00,88.04 L475.20,88.92 L475.40,89.34 L475.60,89.57 L475.80,89.71 L476.00,89.80 L476.20,89.86 L476.40,89.91" stroke="#4f84ba" stroke-width="0.8"/>
<path d="M504.90,89.96 L505.10,89.93 L505.30,89.89 L505.50,89.82 L505.70,89.72 L505.90,89.56 L506.10,89.26 L506.30,88.63 L506.50,86.92 L506.70,79.60 L506.90,44.90 L507.10,79.60 L507.30,86.92 L507.50,88.63 L507.70,89.26 L507.90,89.56 L508.10,89.72 L508.30,89.82 L508.50,89.89 L508.70,89.93 L508.90,89.96" stroke="#4f84ba" stroke-width="0.8"/>
<rect x="494.2" y="111.2" width="45.6" height="65.4" fill="#fca2a8" stroke="none"/>
<path d="M494.4,111.8 V176.6" stroke="#fff" stroke-width="1.10" stroke-dasharray="1.3 1.5" stroke-opacity="1.00" fill="none"/>
<path d="M539.7,111.8 V176.6" stroke="#fff" stroke-width="1.10" stroke-dasharray="1.3 1.5" stroke-opacity="1.00" fill="none"/>
<path d="M586.4,110.7 V176.5" stroke="#4a4444" stroke-width="0.80" stroke-dasharray="1.7 1.0" stroke-opacity="1.00" fill="none"/>
<path d="M635.1,110.7 V176.5" stroke="#4a4444" stroke-width="0.80" stroke-dasharray="1.7 1.0" stroke-opacity="1.00" fill="none"/>
<path d="M450.0,177.30 L494.2,177.10" stroke="#5f7388" stroke-width="0.95"/>
<path d="M539.8,176.90 L680.6,176.10" stroke="#5f7388" stroke-width="0.95"/>
<path d="M494.2,177.00 L539.8,176.90" stroke="#9a6a78" stroke-width="0.80"/>
<path d="M470.50,177.00 L470.70,176.96 L470.90,176.89 L471.10,176.80 L471.30,176.65 L471.50,176.42 L471.70,175.98 L471.90,175.07 L472.10,172.59 L472.30,161.96 L472.50,111.60 L472.70,161.96 L472.90,172.59 L473.10,175.07 L473.30,175.98 L473.50,176.42 L473.70,176.65 L473.90,176.80 L474.10,176.89 L474.30,176.96 L474.50,177.00" stroke="#4f84ba" stroke-width="0.8"/>
<path d="M495.00,176.83 L495.20,176.82 L495.40,176.82 L495.60,176.82 L495.80,176.81 L496.00,176.81 L496.20,176.81 L496.40,176.80 L496.60,176.80 L496.80,176.79 L497.00,176.79 L497.20,176.78 L497.40,176.78 L497.60,176.77 L497.80,176.76 L498.00,176.76 L498.20,176.75 L498.40,176.74 L498.60,176.73 L498.80,176.72 L499.00,176.71 L499.20,176.69 L499.40,176.68 L499.60,176.66 L499.80,176.65 L500.00,176.63 L500.20,176.61 L500.40,176.58 L500.60,175.90 L500.80,175.61 L501.00,175.50 L501.20,175.59 L501.40,175.83 L501.60,176.10 L501.80,176.26 L502.00,176.21 L502.20,175.95 L502.40,175.55 L502.60,175.12 L502.80,174.80 L503.00,174.64 L503.20,174.64 L503.40,174.67 L503.60,174.58 L503.80,174.22 L504.00,173.47 L504.20,172.60 L504.40,171.18 L504.60,168.90 L504.80,164.80 L505.00,156.58 L505.20,143.05 L505.30,139.70 L505.40,143.05 L505.60,156.58 L505.80,164.80 L506.00,168.90 L506.20,171.18 L506.40,172.60 L506.60,173.10 L506.80,173.50 L507.00,173.83 L507.20,174.23 L507.40,174.71 L507.60,175.22 L507.80,175.66 L508.00,175.92 L508.20,175.97 L508.40,175.84 L508.60,175.63 L508.80,175.47 L509.00,175.46 L509.20,175.63 L509.40,175.93 L509.60,176.26 L509.80,176.49 L510.00,176.54 L510.20,176.41 L510.40,176.16 L510.60,175.90 L510.80,175.76 L511.00,175.80 L511.20,176.68 L511.40,176.69 L511.60,176.71 L511.80,176.72 L512.00,176.73 L512.20,176.74 L512.40,176.75 L512.60,176.76 L512.80,176.76 L513.00,176.77 L513.20,176.78 L513.40,176.78 L513.60,176.79 L513.80,176.79 L514.00,176.80 L514.20,176.80 L514.40,176.81 L514.60,176.81 L514.80,176.81 L515.00,176.82 L515.20,176.82 L515.40,176.82 L515.60,176.83 L515.80,176.83 L516.00,176.83 L516.20,176.83 L516.40,176.84 L516.60,176.84 L516.80,176.84 L517.00,176.84 L517.20,176.85 L517.40,176.85 L517.60,176.85 L517.80,176.85 L518.00,176.85 L518.20,176.85 L518.40,176.85 L518.60,176.86 L518.80,176.86 L519.00,176.86 L519.20,176.86 L519.40,176.86 L519.60,176.86 L519.80,176.86 L520.00,176.86 L520.20,176.86 L520.40,176.87 L520.60,176.87 L520.80,176.87 L521.00,176.87 L521.20,176.87 L521.40,176.87 L521.60,176.87 L521.80,176.87 L522.00,176.87 L522.20,176.87 L522.40,176.87 L522.60,176.87 L522.80,176.87 L523.00,176.88 L523.20,176.88 L523.40,176.88 L523.60,176.88 L523.80,176.88 L524.00,176.88 L524.20,176.88 L524.40,176.88 L524.60,176.88 L524.80,176.88 L525.00,176.88 L525.20,176.88 L525.40,176.88 L525.60,176.88 L525.80,176.88 L526.00,176.88 L526.20,176.88 L526.40,176.88 L526.60,176.88 L526.80,176.88 L527.00,176.88 L527.20,176.88 L527.40,176.88 L527.60,176.88 L527.80,176.88 L528.00,176.88 L528.20,176.89 L528.40,176.89 L528.60,176.89 L528.80,176.89 L529.00,176.89 L529.20,176.89 L529.40,176.89 L529.60,176.89 L529.80,176.89 L530.00,176.89 L530.20,176.89 L530.40,176.89 L530.60,176.89 L530.80,176.89 L531.00,176.89 L531.20,176.89 L531.40,176.89 L531.60,176.89 L531.80,176.89 L532.00,176.89 L532.20,176.89 L532.40,176.89 L532.60,176.89 L532.80,176.89 L533.00,176.89 L533.20,176.89 L533.40,176.89 L533.60,176.89 L533.80,176.89 L534.00,176.89 L534.20,176.89 L534.40,176.89 L534.60,176.89 L534.80,176.89 L535.00,176.89 L535.20,176.89 L535.40,176.89 L535.60,176.89 L535.80,176.89 L536.00,176.89 L536.20,176.89 L536.40,176.89 L536.60,176.89 L536.80,176.89 L537.00,176.89 L537.20,176.89 L537.40,176.89 L537.60,176.89 L537.80,176.89 L538.00,176.89 L538.20,176.89 L538.40,176.89 L538.60,176.89 L538.80,176.89 L539.00,176.89" stroke="#54404f" stroke-width="0.7"/>
<rect x="448.2" y="191.2" width="48.8" height="64.0" fill="#fca2a8" stroke="none"/>
<rect x="541.5" y="191.2" width="48.8" height="63.8" fill="#fca2a8" stroke="none"/>
<path d="M496.9,191.8 V255.0" stroke="#fff" stroke-width="1.10" stroke-dasharray="1.3 1.5" stroke-opacity="1.00" fill="none"/>
<path d="M541.6,191.8 V255.0" stroke="#fff" stroke-width="1.10" stroke-dasharray="1.3 1.5" stroke-opacity="1.00" fill="none"/>
<path d="M590.2,191.8 V255.0" stroke="#fff" stroke-width="1.10" stroke-dasharray="1.3 1.5" stroke-opacity="1.00" fill="none"/>
<path d="M638.7,190.0 V254.5" stroke="#4a4444" stroke-width="0.80" stroke-dasharray="1.7 1.0" stroke-opacity="1.00" fill="none"/>
<path d="M497.0,254.30 L541.5,254.20" stroke="#5f7388" stroke-width="0.95"/>
<path d="M590.3,254.10 L681.8,253.70" stroke="#5f7388" stroke-width="0.95"/>
<path d="M451.80,243.48 L452.00,245.57 L452.20,247.25 L452.40,248.59 L452.60,249.66 L452.80,250.52 L453.00,251.21 L453.20,251.76 L453.40,252.20 L453.60,252.56 L453.80,252.84 L454.00,251.92 L454.20,251.44 L454.40,251.16 L454.60,251.25 L454.80,251.72 L455.00,252.44 L455.20,253.17 L455.40,253.68 L455.60,253.80 L455.80,253.50 L456.00,252.90 L456.20,252.23 L456.40,251.75 L456.60,251.63 L456.80,251.92 L457.00,252.53 L457.20,253.22 L457.40,253.76 L457.60,253.95 L457.80,253.72 L458.00,253.15 L458.20,252.46 L458.40,251.89 L458.60,251.66 L458.80,251.84 L459.00,252.38 L459.20,253.07 L459.40,253.67 L459.60,253.95 L459.80,253.82 L460.00,253.31 L460.20,252.63 L460.40,252.00 L460.60,251.67 L460.80,251.75 L461.00,252.21 L461.20,252.88 L461.40,253.53 L461.60,253.90 L461.80,253.87 L462.00,253.45 L462.20,252.79 L462.40,252.12 L462.60,251.70 L462.80,251.67 L463.00,252.05 L463.20,252.69 L463.40,253.36 L463.60,253.82 L463.80,253.90 L464.00,253.56 L464.20,252.94 L464.40,252.25 L464.60,251.74 L464.80,251.61 L465.00,251.89 L465.20,252.48 L465.40,253.17 L465.60,253.70 L465.80,253.87 L466.00,253.63 L466.20,253.06 L466.40,252.36 L466.60,251.78 L466.80,251.54 L467.00,251.72 L467.20,252.24 L467.40,252.93 L467.60,253.51 L467.80,253.78 L468.00,253.64 L468.20,253.12 L468.40,252.42 L468.60,251.78 L468.80,251.43 L469.00,251.49 L469.20,251.93 L469.40,252.57 L469.60,253.19 L469.80,253.53 L470.00,253.46 L470.20,253.00 L470.40,252.29 L470.60,251.57 L470.80,251.08 L471.00,250.97 L471.20,251.25 L471.40,251.78 L471.60,252.32 L471.80,252.61 L472.00,252.48 L472.20,251.88 L472.40,250.92 L472.60,251.44 L472.80,250.84 L473.00,250.01 L473.20,248.81 L473.40,247.01 L473.60,244.11 L473.80,239.02 L474.00,229.09 L474.20,209.36 L474.40,191.40 L474.60,209.36 L474.80,229.09 L475.00,239.02 L475.20,244.11 L475.40,247.01 L475.60,248.81 L475.80,250.01 L476.00,250.84 L476.20,251.44 L476.40,251.24 L476.60,251.33 L476.80,251.50 L477.00,251.79 L477.20,252.19 L477.40,252.63 L477.60,253.00 L477.80,253.22 L478.00,253.25 L478.20,253.10 L478.40,252.86 L478.60,252.64 L478.80,252.54 L479.00,252.62 L479.20,252.85 L479.40,253.17 L479.60,253.48 L479.80,253.67 L480.00,253.68 L480.20,253.52 L480.40,253.25 L480.60,252.97 L480.80,252.81 L481.00,252.81 L481.20,253.80 L481.40,253.81 L481.60,253.82 L481.80,253.83 L482.00,253.84 L482.20,253.85 L482.40,253.86 L482.60,253.86 L482.80,253.87 L483.00,253.88 L483.20,253.88 L483.40,253.89 L483.60,253.89 L483.80,253.90 L484.00,253.90 L484.20,253.90 L484.40,253.91 L484.60,253.91 L484.80,253.91 L485.00,253.92 L485.20,253.92 L485.40,253.92 L485.60,253.93 L485.80,253.93 L486.00,253.93 L486.20,253.93 L486.40,253.94 L486.60,253.94 L486.80,253.94 L487.00,253.94 L487.20,253.94 L487.40,253.95 L487.60,253.95 L487.80,253.95 L488.00,253.95 L488.20,253.95 L488.40,253.95 L488.60,253.95 L488.80,253.96 L489.00,253.96 L489.20,253.96 L489.40,253.96 L489.60,253.96 L489.80,253.96 L490.00,253.96 L490.20,253.96 L490.40,253.96 L490.60,253.96 L490.80,253.97 L491.00,253.97 L491.20,253.97 L491.40,253.97 L491.60,253.97 L491.80,253.97 L492.00,253.97 L492.20,253.97 L492.40,253.97 L492.60,253.97 L492.80,253.97 L493.00,253.97 L493.20,253.97 L493.40,253.97 L493.60,253.97 L493.80,253.98 L494.00,253.98 L494.20,253.98 L494.40,253.98 L494.60,253.98 L494.80,253.98 L495.00,253.98 L495.20,253.98 L495.40,253.98 L495.60,253.98 L495.80,253.98 L496.00,253.98 L496.20,253.98 L496.40,253.98 L496.60,253.98 L496.80,253.98 L497.00,253.98" stroke="#54404f" stroke-width="0.8"/>
<path d="M497.00,254.25 L497.20,254.24 L497.40,254.24 L497.60,254.24 L497.80,254.24 L498.00,253.48 L498.20,253.05 L498.40,252.77 L498.60,252.75 L498.80,252.99 L499.00,253.41 L499.20,253.84 L499.40,254.14 L499.60,254.19 L499.80,253.97 L500.00,253.55 L500.20,253.10 L500.40,252.77 L500.60,252.67 L500.80,252.85 L501.00,253.23 L501.20,253.67 L501.40,254.01 L501.60,254.12 L501.80,253.95 L502.00,253.56 L502.20,253.09 L502.40,252.70 L502.60,252.53 L502.80,252.62 L503.00,252.94 L503.20,253.36 L503.40,253.70 L503.60,253.84 L503.80,253.70 L504.00,253.31 L504.20,252.78 L504.40,252.27 L504.60,251.94 L504.80,251.84 L505.00,251.94 L505.20,252.13 L505.40,252.48 L505.60,252.02 L505.80,251.37 L506.00,250.41 L506.20,248.94 L506.40,246.44 L506.60,241.46 L506.80,228.55 L507.00,208.10 L507.20,228.55 L507.40,241.46 L507.60,246.44 L507.80,248.94 L508.00,250.41 L508.20,251.37 L508.40,252.02 L508.60,252.48 L508.80,252.17 L509.00,252.05 L509.20,252.01 L509.40,252.15 L509.60,252.48 L509.80,252.94 L510.00,253.41 L510.20,253.73 L510.40,253.83 L510.60,253.69 L510.80,253.38 L511.00,253.03 L511.20,252.78 L511.40,252.73 L511.60,252.91 L511.80,253.27 L512.00,253.68 L512.20,254.00 L512.40,254.12 L512.60,254.00 L512.80,253.69 L513.00,253.30 L513.20,252.99 L513.40,252.87 L513.60,252.98 L513.80,253.29 L514.00,253.69 L514.20,254.03 L514.40,254.20 L514.60,254.13 L514.80,253.85 L515.00,253.47 L515.20,253.12 L515.40,252.94 L515.60,252.98 L515.80,253.25 L516.00,253.63 L516.20,254.00 L516.40,254.22 L516.60,254.20 L516.80,253.97 L517.00,253.60 L517.20,253.22 L517.40,252.99 L517.60,252.97 L517.80,253.19 L518.00,253.56 L518.20,253.94 L518.40,254.20 L518.60,254.25 L518.80,254.06 L519.00,253.71 L519.20,254.26 L519.40,254.26 L519.60,254.27 L519.80,254.27 L520.00,254.27 L520.20,254.27 L520.40,254.27 L520.60,254.27 L520.80,254.27 L521.00,254.27 L521.20,254.27 L521.40,254.27 L521.60,254.27 L521.80,254.28 L522.00,254.28 L522.20,254.28 L522.40,254.28 L522.60,254.28 L522.80,254.28 L523.00,254.28 L523.20,254.28 L523.40,254.28 L523.60,254.28 L523.80,254.28 L524.00,254.28 L524.20,254.28 L524.40,254.28 L524.60,254.28 L524.80,254.28 L525.00,254.28 L525.20,254.28 L525.40,254.28 L525.60,254.28 L525.80,254.28 L526.00,254.28 L526.20,254.29 L526.40,254.29 L526.60,254.29 L526.80,254.29 L527.00,254.29 L527.20,254.29 L527.40,254.29 L527.60,254.29 L527.80,254.29 L528.00,254.29 L528.20,254.29 L528.40,254.29 L528.60,254.29 L528.80,254.29 L529.00,254.29 L529.20,254.29 L529.40,254.29 L529.60,254.29 L529.80,254.29 L530.00,254.29 L530.20,254.29 L530.40,254.29 L530.60,254.29 L530.80,254.29 L531.00,254.29 L531.20,254.29 L531.40,254.29 L531.60,254.29 L531.80,254.29 L532.00,254.29 L532.20,254.29 L532.40,254.29 L532.60,254.29 L532.80,254.29 L533.00,254.29 L533.20,254.29 L533.40,254.29 L533.60,254.29 L533.80,254.29 L534.00,254.29 L534.20,254.29 L534.40,254.29 L534.60,254.29 L534.80,254.29 L535.00,254.29 L535.20,254.29 L535.40,254.29 L535.60,254.29 L535.80,254.29 L536.00,254.29 L536.20,254.29 L536.40,254.29 L536.60,254.29 L536.80,254.29 L537.00,254.29 L537.20,254.29 L537.40,254.29 L537.60,254.29 L537.80,254.29 L538.00,254.29 L538.20,254.29 L538.40,254.29 L538.60,254.29 L538.80,254.29 L539.00,254.29 L539.20,254.29 L539.40,254.29 L539.60,254.29 L539.80,254.29 L540.00,254.29 L540.20,254.30 L540.40,254.30 L540.60,254.30 L540.80,254.30 L541.00,254.30 L541.20,254.30 L541.40,254.30" stroke="#4f84ba" stroke-width="0.65"/>
<path d="M541.50,254.20 L541.70,254.20 L541.90,254.20 L542.10,254.20 L542.30,254.20 L542.50,254.20 L542.70,254.20 L542.90,254.20 L543.10,254.20 L543.30,254.20 L543.50,254.20 L543.70,254.20 L543.90,254.20 L544.10,254.20 L544.30,254.20 L544.50,254.20 L544.70,254.20 L544.90,254.20 L545.10,254.20 L545.30,254.20 L545.50,254.20 L545.70,254.20 L545.90,254.20 L546.10,254.20 L546.30,254.20 L546.50,254.20 L546.70,254.20 L546.90,254.20 L547.10,254.20 L547.30,254.20 L547.50,254.20 L547.70,254.20 L547.90,254.20 L548.10,254.20 L548.30,254.20 L548.50,254.20 L548.70,254.20 L548.90,254.20 L549.10,254.20 L549.30,254.20 L549.50,254.20 L549.70,254.20 L549.90,254.20 L550.10,254.20 L550.30,254.19 L550.50,254.19 L550.70,254.19 L550.90,254.19 L551.10,254.19 L551.30,254.19 L551.50,254.19 L551.70,254.19 L551.90,254.19 L552.10,254.19 L552.30,254.19 L552.50,254.19 L552.70,254.19 L552.90,254.19 L553.10,254.19 L553.30,254.19 L553.50,254.19 L553.70,254.19 L553.90,254.19 L554.10,254.19 L554.30,254.19 L554.50,254.19 L554.70,254.19 L554.90,254.19 L555.10,254.19 L555.30,254.19 L555.50,254.19 L555.70,254.19 L555.90,254.19 L556.10,254.19 L556.30,254.19 L556.50,254.19 L556.70,254.19 L556.90,254.19 L557.10,254.19 L557.30,254.19 L557.50,254.19 L557.70,254.19 L557.90,254.19 L558.10,254.19 L558.30,254.19 L558.50,254.19 L558.70,254.19 L558.90,254.19 L559.10,254.19 L559.30,254.19 L559.50,254.19 L559.70,254.19 L559.90,254.19 L560.10,254.19 L560.30,254.19 L560.50,254.19 L560.70,254.19 L560.90,254.19 L561.10,254.19 L561.30,254.19 L561.50,254.19 L561.70,254.19 L561.90,254.19 L562.10,254.19 L562.30,254.19 L562.50,254.19 L562.70,254.19 L562.90,254.19 L563.10,254.19 L563.30,254.18 L563.50,254.18 L563.70,254.18 L563.90,254.18 L564.10,254.18 L564.30,254.18 L564.50,254.18 L564.70,254.18 L564.90,254.18 L565.10,254.18 L565.30,254.18 L565.50,254.18 L565.70,254.18 L565.90,254.18 L566.10,254.18 L566.30,254.18 L566.50,254.18 L566.70,254.18 L566.90,254.18 L567.10,254.18 L567.30,254.17 L567.50,254.17 L567.70,254.17 L567.90,254.17 L568.10,254.17 L568.30,254.17 L568.50,254.17 L568.70,254.17 L568.90,254.17 L569.10,254.17 L569.30,254.16 L569.50,254.16 L569.70,254.16 L569.90,254.16 L570.10,254.16 L570.30,254.16 L570.50,254.16 L570.70,254.15 L570.90,254.15 L571.10,254.15 L571.30,254.15 L571.50,254.15 L571.70,254.14 L571.90,254.14 L572.10,254.14 L572.30,254.14 L572.50,254.13 L572.70,254.13 L572.90,254.13 L573.10,254.12 L573.30,254.12 L573.50,254.11 L573.70,254.11 L573.90,254.10 L574.10,254.10 L574.30,254.09 L574.50,254.08 L574.70,254.08 L574.90,254.07 L575.10,254.06 L575.30,254.05 L575.50,254.04 L575.70,254.02 L575.90,254.01 L576.10,253.99 L576.30,253.98 L576.50,253.60 L576.70,253.38 L576.90,253.22 L577.10,253.19 L577.30,253.28 L577.50,253.44 L577.70,253.60 L577.90,253.66 L578.10,253.59 L578.30,253.37 L578.50,253.05 L578.70,252.71 L578.90,252.40 L579.10,252.16 L579.30,251.98 L579.50,251.78 L579.70,251.42 L579.90,250.78 L580.10,249.75 L580.30,248.31 L580.50,246.69 L580.70,245.49 L580.80,245.27 L580.90,245.36 L581.10,246.36 L581.30,247.90 L581.50,249.41 L581.70,250.65 L581.90,251.55 L582.10,252.11 L582.30,252.40 L582.50,252.50 L582.70,252.53 L582.90,252.58 L583.10,252.72 L583.30,252.96 L583.50,253.26 L583.70,253.54 L583.90,253.72 L584.10,253.78 L584.30,253.69 L584.50,253.52 L584.70,253.35 L584.90,253.25 L585.10,253.27 L585.30,253.42 L585.50,253.64 L585.70,254.01 L585.90,254.02 L586.10,254.04 L586.30,254.05 L586.50,254.06 L586.70,254.07 L586.90,254.08 L587.10,254.08 L587.30,254.09 L587.50,254.10 L587.70,254.10 L587.90,254.11 L588.10,254.11 L588.30,254.12 L588.50,254.12 L588.70,254.13 L588.90,254.13 L589.10,254.13 L589.30,254.14 L589.50,254.14 L589.70,254.14 L589.90,254.14 L590.10,254.15 L590.30,254.15" stroke="#54404f" stroke-width="0.8"/>
<rect x="448.9" y="271.7" width="97.2" height="65.5" fill="#fca2a8" stroke="none"/>
<path d="M496.9,272.3 V337.0" stroke="#fff" stroke-width="1.10" stroke-dasharray="1.3 1.5" stroke-opacity="1.00" fill="none"/>
<path d="M546.0,271.7 V337.0" stroke="#fff" stroke-width="1.00" stroke-dasharray="1.3 1.5" stroke-opacity="0.80" fill="none"/>
<path d="M594.3,271.7 V337.0" stroke="#4a4444" stroke-width="0.80" stroke-dasharray="1.7 1.0" stroke-opacity="1.00" fill="none"/>
<path d="M639.1,271.7 V337.0" stroke="#4a4444" stroke-width="0.80" stroke-dasharray="1.7 1.0" stroke-opacity="1.00" fill="none"/>
<path d="M546.1,337.00 L683.7,336.80" stroke="#5f7388" stroke-width="0.95"/>
<path d="M449.0,337.00 L546.1,337.00" stroke="#b86f7c" stroke-width="0.80"/>
<path d="M449.30,272.80 L449.50,287.78 L449.70,299.25 L449.90,308.04 L450.10,314.77 L450.30,319.93 L450.50,323.88 L450.70,326.90 L450.90,329.22 L451.10,330.99 L451.30,332.35 L451.50,332.74 L451.70,333.10 L451.90,333.50 L452.10,334.10 L452.30,334.86 L452.50,335.59 L452.70,336.09 L452.90,336.21 L453.10,335.98 L453.30,335.61 L453.50,335.33 L453.70,335.34 L453.90,335.67 L454.10,336.16 L454.30,336.59 L454.50,336.73 L454.70,336.54 L454.90,336.11 L455.10,335.68 L455.30,335.48 L455.50,335.61 L455.70,336.02 L455.90,336.48 L456.10,336.77 L456.30,336.73 L456.50,336.38 L456.70,335.91 L456.90,335.57 L457.10,335.52 L457.30,335.81 L457.50,336.27 L457.70,336.80 L457.90,336.80 L458.10,336.80 L458.30,336.80 L458.50,336.80 L458.70,336.80 L458.90,336.80 L459.10,336.80 L459.30,336.80 L459.50,336.80 L459.70,336.80 L459.90,336.80 L460.10,336.80 L460.30,336.80 L460.50,336.80 L460.70,336.80 L460.90,336.80 L461.10,336.80 L461.30,336.80 L461.50,336.80 L461.70,336.80 L461.90,336.80 L462.10,336.80 L462.30,336.80 L462.50,336.80 L462.70,336.80 L462.90,336.80 L463.10,336.80 L463.30,336.80 L463.50,336.80 L463.70,336.80 L463.90,336.80 L464.10,336.80 L464.30,336.80 L464.50,336.80 L464.70,336.80 L464.90,336.80 L465.10,336.80 L465.30,336.80 L465.50,336.80 L465.70,336.80 L465.90,336.80 L466.10,336.80 L466.30,336.80 L466.50,336.80 L466.70,336.80 L466.90,336.80 L467.10,336.80 L467.30,336.80 L467.50,336.80 L467.70,336.80 L467.90,336.80 L468.10,336.80 L468.30,336.80 L468.50,336.80 L468.70,336.80 L468.90,336.80 L469.10,336.80 L469.30,336.80 L469.50,336.80 L469.70,336.80 L469.90,336.80" stroke="#b0687a" stroke-width="0.7"/>
<path d="M472.5,336.8 V308.6" stroke="#54404f" stroke-width="0.8"/>
<path d="M505.7,336.8 V315.9" stroke="#54404f" stroke-width="0.8"/>
</g>
</svg>
</body></html>
